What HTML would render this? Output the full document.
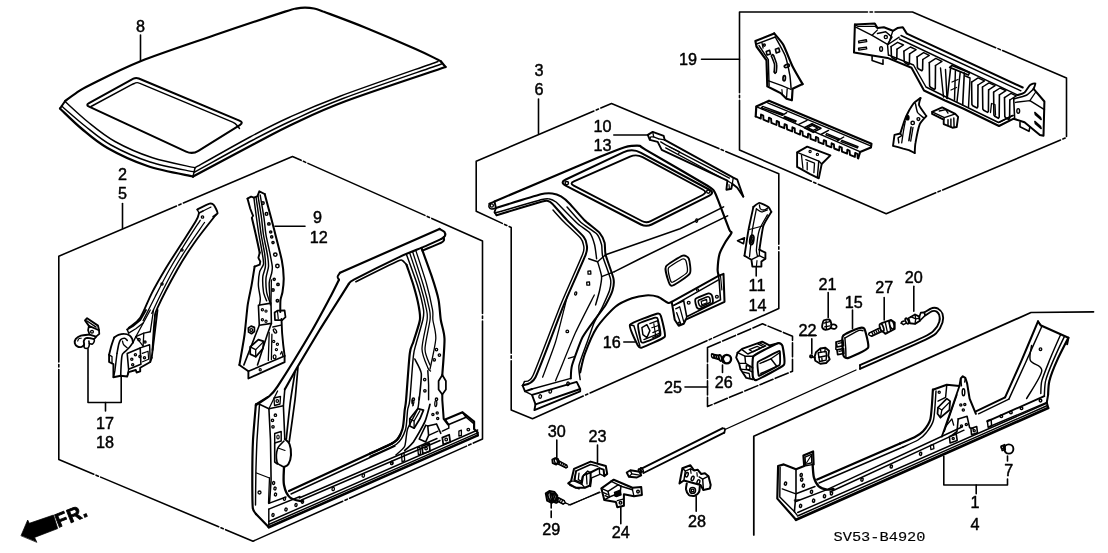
<!DOCTYPE html>
<html lang="en"><head><meta charset="utf-8"><title>Outer Panel</title>
<style>
html,body{margin:0;padding:0;background:#fff;}
body{width:1108px;height:553px;overflow:hidden;}
svg{display:block;will-change:transform;}
svg text{font-family:"Liberation Sans",sans-serif;}
svg text.m{font-family:"Liberation Mono",monospace;}
</style></head><body>
<svg width="1108" height="553" viewBox="0 0 1108 553">
<g fill="none" stroke="#000" stroke-width="1.2" stroke-linecap="round" stroke-linejoin="round">
<!-- frame -->
<path d="M58.8 256.2 L292.5 156.5 L482.5 241 L482.5 439 L253 541.2 L58.8 459.5Z" stroke-width="1.59" stroke-dasharray="128 2.5 2.5 2.5"/>
<path d="M476.2 161.2 L611.5 103.5 L778.8 173.8 L778.8 308.5 L532.5 418.8 L511.2 410 L511.2 227.5 L476.2 211.2Z" stroke-width="1.59" stroke-dasharray="128 2.5 2.5 2.5"/>
<path d="M739.5 12 L912.5 12 L1066.5 78 L1066.5 137.5 L886.2 213.8 L739.5 150Z" stroke-width="1.59" stroke-dasharray="128 2.5 2.5 2.5"/>
<path d="M707.5 347.5 L762.5 323.8 L792.5 336.2 L792.5 371.2 L707.5 406.5Z" stroke-width="1.59" stroke-dasharray="14 2.5"/>
<path d="M753.8 535 L753.8 436.2 L1031 312.5 L1093.5 311.8" stroke-width="1.74"/>
<path d="M856 370 L725 429.5" stroke-width="1.3"/>
<path d="M568.8 505 L600 492.5" stroke-width="1.3"/>
<text x="140.5" y="31.8" font-size="16.2" text-anchor="middle" stroke="#000" stroke-width="0.45" fill="#000">8</text>
<path d="M140.5 35 L140.5 61" stroke-width="1.59"/>
<text x="122.5" y="179.8" font-size="16.2" text-anchor="middle" stroke="#000" stroke-width="0.45" fill="#000">2</text>
<text x="122.5" y="198.8" font-size="16.2" text-anchor="middle" stroke="#000" stroke-width="0.45" fill="#000">5</text>
<path d="M122.5 203.5 L122.5 228.5" stroke-width="1.59"/>
<text x="539" y="75.6" font-size="16.2" text-anchor="middle" stroke="#000" stroke-width="0.45" fill="#000">3</text>
<text x="539" y="94.5" font-size="16.2" text-anchor="middle" stroke="#000" stroke-width="0.45" fill="#000">6</text>
<path d="M538.5 99 L538.5 133.5" stroke-width="1.59"/>
<text x="688" y="64.8" font-size="16.2" text-anchor="middle" stroke="#000" stroke-width="0.45" fill="#000">19</text>
<path d="M701.5 59.2 L739.5 59.2" stroke-width="1.59"/>
<text x="317.5" y="223.3" font-size="16.2" text-anchor="middle" stroke="#000" stroke-width="0.45" fill="#000">9</text>
<text x="318.8" y="243.3" font-size="16.2" text-anchor="middle" stroke="#000" stroke-width="0.45" fill="#000">12</text>
<path d="M275 226.2 L305 226.2" stroke-width="1.59"/>
<text x="602.5" y="132.3" font-size="16.2" text-anchor="middle" stroke="#000" stroke-width="0.45" fill="#000">10</text>
<text x="602.5" y="151.3" font-size="16.2" text-anchor="middle" stroke="#000" stroke-width="0.45" fill="#000">13</text>
<path d="M613.8 135 L647.5 135" stroke-width="1.59"/>
<text x="757" y="290.8" font-size="16.2" text-anchor="middle" stroke="#000" stroke-width="0.45" fill="#000">11</text>
<text x="757.5" y="310.8" font-size="16.2" text-anchor="middle" stroke="#000" stroke-width="0.45" fill="#000">14</text>
<path d="M756.2 267.5 L756.2 276" stroke-width="1.59"/>
<text x="611.8" y="347.8" font-size="16.2" text-anchor="middle" stroke="#000" stroke-width="0.45" fill="#000">16</text>
<path d="M623.8 342 L635 342" stroke-width="1.59"/>
<text x="105" y="429.3" font-size="16.2" text-anchor="middle" stroke="#000" stroke-width="0.45" fill="#000">17</text>
<text x="105" y="448.3" font-size="16.2" text-anchor="middle" stroke="#000" stroke-width="0.45" fill="#000">18</text>
<path d="M88 348.8 L88 402.5 L121.2 402.5 L121.2 376.2" stroke-width="1.59"/>
<path d="M105.5 402.5 L105.5 411" stroke-width="1.59"/>
<text x="673" y="392.8" font-size="16.2" text-anchor="middle" stroke="#000" stroke-width="0.45" fill="#000">25</text>
<path d="M685 387 L707.5 387" stroke-width="1.59"/>
<text x="723.8" y="388.3" font-size="16.2" text-anchor="middle" stroke="#000" stroke-width="0.45" fill="#000">26</text>
<path d="M722.5 365 L722.5 372.5" stroke-width="1.59"/>
<text x="827.5" y="289.6" font-size="16.2" text-anchor="middle" stroke="#000" stroke-width="0.45" fill="#000">21</text>
<path d="M828.2 292.5 L828.2 317.5" stroke-width="1.59"/>
<text x="807.5" y="335.8" font-size="16.2" text-anchor="middle" stroke="#000" stroke-width="0.45" fill="#000">22</text>
<path d="M800 335.5 L816.2 335.5" stroke-width="1.59"/>
<path d="M811.8 338.8 L811.8 353.8" stroke-width="1.59"/>
<text x="853.8" y="308.3" font-size="16.2" text-anchor="middle" stroke="#000" stroke-width="0.45" fill="#000">15</text>
<path d="M852.5 310 L852.5 328.8" stroke-width="1.59"/>
<text x="884.2" y="293.3" font-size="16.2" text-anchor="middle" stroke="#000" stroke-width="0.45" fill="#000">27</text>
<path d="M884.2 297.5 L884.2 320" stroke-width="1.59"/>
<text x="913.8" y="283.3" font-size="16.2" text-anchor="middle" stroke="#000" stroke-width="0.45" fill="#000">20</text>
<path d="M913.8 286.2 L913.8 311.2" stroke-width="1.59"/>
<text x="556.8" y="437.1" font-size="16.2" text-anchor="middle" stroke="#000" stroke-width="0.45" fill="#000">30</text>
<path d="M556.8 440 L556.8 458.8" stroke-width="1.59"/>
<text x="597.5" y="442.1" font-size="16.2" text-anchor="middle" stroke="#000" stroke-width="0.45" fill="#000">23</text>
<path d="M597.5 445 L597.5 462.5" stroke-width="1.59"/>
<text x="551.2" y="534.5" font-size="16.2" text-anchor="middle" stroke="#000" stroke-width="0.45" fill="#000">29</text>
<path d="M551.2 500 L551.2 517.5" stroke-width="1.59" stroke-dasharray="8 3"/>
<text x="620.8" y="538.3" font-size="16.2" text-anchor="middle" stroke="#000" stroke-width="0.45" fill="#000">24</text>
<path d="M620.8 507.5 L620.8 523.8" stroke-width="1.59"/>
<text x="697" y="527" font-size="16.2" text-anchor="middle" stroke="#000" stroke-width="0.45" fill="#000">28</text>
<path d="M696.2 496.2 L696.2 511.2" stroke-width="1.59"/>
<text x="1008.8" y="475.8" font-size="16.2" text-anchor="middle" stroke="#000" stroke-width="0.45" fill="#000">7</text>
<path d="M1007.5 456 L1007.5 461" stroke-width="1.59"/>
<text x="975" y="508.3" font-size="16.2" text-anchor="middle" stroke="#000" stroke-width="0.45" fill="#000">1</text>
<text x="975" y="529.5" font-size="16.2" text-anchor="middle" stroke="#000" stroke-width="0.45" fill="#000">4</text>
<path d="M943.8 456.2 L943.8 485 L1007.5 485 L1007.5 479" stroke-width="1.59"/>
<path d="M976.2 485 L976.2 493.8" stroke-width="1.59"/>
<text x="833.5" y="541.2" font-size="13.4" text-anchor="start" class="m" fill="#000" stroke="#000" stroke-width="0.15" textLength="92" lengthAdjust="spacingAndGlyphs">SV53-B4920</text>
<path d="M21.1 535.4 L27.7 520 L29.3 523.3 L53.5 515 L57.7 528.6 L34.6 537.4 L36.7 542Z" stroke-width="0.72" fill="#000"/>
<text x="58.3" y="527.8" font-size="19.5" text-anchor="start" font-weight="bold" fill="#000" stroke="#000" stroke-width="0.8" letter-spacing="0.6" transform="rotate(-21.5 58.3 527.8)">FR.</text>
<!-- roof -->
<path d="M65 101.2 C66.7 100 70.8 96.5 75 93.8 C79.2 91 79.1 90.4 90 85 C100.9 79.6 119.7 69.6 140.5 61.2 C161.3 52.9 190.9 43.3 215 35 C239.1 26.7 271.5 16 285 11.6 C298.5 7.2 292.7 9.3 296 8.6 C299.3 7.9 302 7.6 305 7.6 C308 7.6 310.8 7.8 314 8.5 C317.2 9.2 315.5 8.6 324 11.8 C332.5 15 349.8 21.3 365 27.5 C380.2 33.7 402.9 43.4 415 48.8 C427.1 54.1 433.2 57.4 437.5 59.5 C441.8 61.6 440.4 61.2 441 61.5" stroke-width="2.17"/>
<path d="M441 61.5 L445.5 67" stroke-width="2.17"/>
<path d="M438 61.5 C421.7 67.3 364.7 87 340 96.2 C315.3 105.5 305 110.2 290 117 C275 123.8 265.8 128.5 250 137 C234.2 145.5 204.2 162.6 195 167.8" stroke-width="1.45"/>
<path d="M441.5 64 C425.1 69.8 367.9 89.1 343 98.5 C318.1 107.9 307.2 113.5 292 120.5 C276.8 127.5 268.2 131.9 252 140.5 C235.8 149.1 204.1 166.8 194.5 172" stroke-width="1.45"/>
<path d="M445.5 67 C428.9 72.7 371.2 91.6 346 101 C320.8 110.4 309.3 116.3 294 123.5 C278.7 130.7 270.8 135.2 254 144 C237.2 152.8 203.2 171.1 193 176.5" stroke-width="2.32"/>
<path d="M65 101.5 C68.8 104.9 79.7 115.3 88 122 C96.3 128.7 104.2 135.5 115 141.5 C125.8 147.5 139.2 153.4 152.5 157.8 C165.8 162.1 187.9 166.1 195 167.8" stroke-width="1.45"/>
<path d="M61.5 106 C65.4 109.3 76.8 119.5 85 126 C93.2 132.5 100.2 139 111 145 C121.8 151 136.1 157.5 150 162 C163.9 166.5 187.1 170.3 194.5 172" stroke-width="1.45"/>
<path d="M60 108.5 C63.7 111.9 74.1 122.4 82 129 C89.9 135.6 96.6 141.8 107.5 148 C118.4 154.2 133.2 161.2 147.5 166 C161.8 170.8 185.4 174.8 193 176.5" stroke-width="2.32"/>
<path d="M65 101.2 L60 108.5" stroke-width="2.03"/>
<path d="M195 167.8 L193 176.5" stroke-width="1.45"/>
<path d="M138.8 78.5 Q136 77.3 133.4 78.7 L89 103.1 Q85.5 105 89.1 106.7 L186.1 151.6 Q192.5 154.5 198.4 150.8 L239.8 125.1 Q244 122.5 239.4 120.6Z" stroke-width="2.03"/>
<path d="M91 106.5 L131.2 84.8 Q133 83.8 134.9 83.2 L135.6 82.9 Q137.5 82.3 139.3 83.1 L232.7 122.1 Q235.5 123.3 237.3 125.7 L239.5 128.5" stroke-width="1.45"/>
<!-- lbox -->
<path d="M197.3 209.5 C198.5 208.9 207.9 204.1 209.6 203.7 C211.3 203.3 213.1 204.2 213.9 205.1 C214.7 206 217.7 211.9 217.6 213.1 C217.5 214.3 213.6 216.3 213.2 216.7" stroke-width="1.89"/>
<path d="M197.3 209.5 L199 213 L203 211" stroke-width="1.45"/>
<path d="M203 211 L211 207" stroke-width="1.16"/>
<path d="M199 213 C198.5 214.3 199.1 215.5 195.9 221 C192.7 226.5 185.2 237.8 180 246 C174.8 254.2 169.5 262.1 164.8 270 C160.1 277.9 155.9 285.2 151.8 293.1 C147.7 301.1 144 311.9 140.2 317.7 C136.3 323.5 130.6 326.2 128.7 327.9" stroke-width="1.89"/>
<path d="M216.1 214.5 C212.5 219.2 200.9 233.4 194.4 242.7 C187.9 251.9 183.2 259.2 177.1 270 C171 280.8 161.3 299.4 157.6 307.6 C153.9 315.8 155.5 312.1 154.7 319.2 C153.8 326.3 152.9 344.9 152.5 350" stroke-width="1.89"/>
<path d="M200.2 220.3 C197.3 224.8 188.2 238.7 183 247 C177.8 255.3 173.9 261.7 169.2 270 C164.5 278.3 159.3 288.6 155 297 C150.7 305.4 145.1 316.7 143.1 320.6" stroke-width="1.3"/>
<path d="M204.5 222.5 C201.6 226.8 192.2 240.1 187 248 C181.8 255.9 178 262 173.5 270 C169 278 163.6 288.8 160 296 C156.4 303.2 153.2 310.5 151.8 313.4" stroke-width="1.3"/>
<circle cx="202.5" cy="217" r="1.2" stroke-width="1.3"/>
<circle cx="182" cy="250" r="1.1" stroke-width="1.3"/>
<circle cx="162" cy="284" r="1.1" stroke-width="1.3"/>
<path d="M88.9 325.9 L85 320.4 L87.1 318.2 L98 325.6 L99 330.2" stroke-width="1.89"/>
<path d="M86.7 320.8 L96.1 327.1" stroke-width="1.3"/>
<path d="M88.9 325.9 L99 330.2 L99.3 333.9 L96.1 336.7 L89.6 334.6 L88.1 330.2Z" stroke-width="1.74"/>
<circle cx="92" cy="331.7" r="1.4" stroke-width="1.3"/>
<path d="M89.6 334.6 C88.1 334.8 83.2 335 80.9 335.7 C78.6 336.5 76.9 337.7 75.8 338.9 C74.8 340.2 74.6 342 74.8 343.3 C75.1 344.5 76.2 345.8 77.3 346.4 C78.4 347 80.5 347.2 81.6 346.9 C82.8 346.6 83.7 345.7 84.1 344.7 C84.4 343.7 83.5 342.2 83.8 341.1 C84.1 340 84.9 338.7 86 338.2 C87 337.7 89 338.1 90.3 338.2 C91.6 338.3 93 339.2 93.9 338.9 C94.9 338.7 95.7 337.1 96.1 336.7" stroke-width="1.89"/>
<path d="M84.1 344.7 C84.2 345.2 83.8 347.3 84.5 347.9 C85.2 348.4 87.3 348.4 88.1 347.9 C88.9 347.3 89.2 345.8 89.3 344.7 C89.4 343.6 88.9 341.7 88.9 341.1" stroke-width="1.59"/>
<path d="M89.3 343.5 C89.8 343.6 91.6 344.4 92.5 344 C93.3 343.6 94.1 341.9 94.3 341.1 C94.6 340.2 94 339.3 93.9 338.9" stroke-width="1.59"/>
<path d="M77.7 341.1 C77.9 340.7 78.2 339.4 78.7 338.9 C79.3 338.4 80.8 338.3 81.2 338.2" stroke-width="1.16"/>
<path d="M114.2 337.5 C114.9 337 116.8 335.5 118.5 334.9 C120.2 334.3 122.5 333.8 124.3 333.9 C126.1 333.9 128 334.5 129.3 335.3 C130.7 336.1 131.6 337.7 132.2 338.9 C132.8 340.1 132.8 341.9 133 342.5" stroke-width="1.89"/>
<path d="M114.2 337.5 C113.9 338.3 111.8 344.4 111.3 346.1 C110.8 347.9 109.3 354 109.1 354.8" stroke-width="1.89"/>
<path d="M109.1 354.8 L109.1 362 L113.4 364.2 L113.4 377.2 L120.7 375.8 L127.2 376.5 L128.6 372.2 L135.8 370 L136.6 372.5 L140.2 371.4 L140.2 367.8 L150.3 362 L151.7 357.7" stroke-width="1.89"/>
<path d="M109.1 354.8 L112 356.6 L112 363.2" stroke-width="1.3"/>
<path d="M117 353.4 C117.3 351.8 118.2 346.3 118.8 344 C119.4 341.7 119.7 340.6 120.7 339.6 C121.6 338.7 123.5 338.1 124.6 338.2 C125.7 338.3 126.7 340 127.2 340.4" stroke-width="1.59"/>
<path d="M120.7 375.8 C120.8 372.8 121.3 361.4 121.7 357.7 C122.1 354 122 354.9 123.1 353.4 C124.3 351.8 127 350.1 128.6 348.3 C130.3 346.5 132.2 343.5 133 342.5" stroke-width="1.59"/>
<path d="M117 353.4 C116.8 355.1 115.2 368.3 114.9 370.7 C114.5 373.1 113.6 376.6 113.4 377.2" stroke-width="1.45"/>
<path d="M122.5 341.1 C122.7 341.7 122.8 343.6 123.6 344.7 C124.3 345.8 126.6 347.3 127.2 347.9" stroke-width="1.3"/>
<path d="M127.2 353.4 L140.2 347.9 L140.9 364.2 L128.6 369.3Z" stroke-width="1.59"/>
<path d="M140.2 347.9 L149.6 344.7 L150.3 362" stroke-width="1.45"/>
<path d="M128.6 369.3 L127.2 376.5" stroke-width="1.3"/>
<path d="M142.3 353.4 L148.1 351.2 L148.6 359.2 L142.6 361.8" stroke-width="1.16"/>
<circle cx="135.4" cy="354.8" r="1.1" stroke-width="1.3"/>
<circle cx="131.8" cy="359.2" r="1.1" stroke-width="1.3"/>
<circle cx="132.7" cy="364.7" r="1.1" stroke-width="1.3"/>
<circle cx="139.9" cy="356.6" r="1.1" stroke-width="1.3"/>
<circle cx="144.5" cy="357.7" r="1.1" stroke-width="1.3"/>
<path d="M133 342.5 L135.8 336.7 L143.8 333.1 L150.3 331.7" stroke-width="1.45"/>
<path d="M135.8 336.7 L143.1 346.1" stroke-width="1.3"/>
<path d="M143.8 333.1 L143.1 346.1" stroke-width="1.3"/>
<circle cx="139" cy="339.6" r="1.2" stroke-width="1.3"/>
<circle cx="145" cy="342.1" r="1.1" stroke-width="1.3"/>
<path d="M127.2 329.5 L133 325.9 L140.2 320.1 L146 310" stroke-width="1.89"/>
<path d="M127.2 329.5 L128.6 333.1" stroke-width="1.45"/>
<path d="M128.6 333.1 L135.8 328.8 L143.1 323" stroke-width="1.3"/>
<path d="M151.7 357.7 L157.5 310" stroke-width="1.89"/>
<path d="M150.3 331.7 L153.5 310" stroke-width="1.3"/>
<path d="M135.8 336.7 L150.3 310" stroke-width="1.3"/>
<path d="M247.5 198.6 L251.1 196.7 L253.9 197.7 L257.5 196.2 L259.3 191.3 L264.7 194" stroke-width="1.89"/>
<path d="M247.5 198.6 C247.7 199.2 249.9 207.4 250.2 208.5 C250.6 209.6 252.8 215.2 253 215.7" stroke-width="1.89"/>
<path d="M253 215.7 L251.9 217.9" stroke-width="1.59"/>
<path d="M251.9 217.9 C252.3 219.6 255.1 231.5 255.9 235 C256.7 238.5 259.3 250.9 259.7 252.7" stroke-width="2.03"/>
<path d="M259.7 252.7 L258.4 257.8 L260.3 261.6 L259.7 264.7 L254.6 266.6" stroke-width="1.89"/>
<path d="M254.6 266.6 C254.3 268.5 252.2 281.8 251.5 285.6 C250.8 289.4 248.4 300 247.7 304.9 C247 309.8 245.3 329 244.5 335 C243.7 341 239.9 362 239.4 365" stroke-width="2.03"/>
<path d="M264.7 194 C265.4 196.7 269.7 212.7 271 217.5 C272.3 222.3 274.2 230 275.5 235 C276.8 240 280.8 255.3 281.8 260.3 C282.8 265.3 283.6 274.3 283.7 278 C283.8 281.7 282.9 289.4 282.5 292 C282.1 294.6 280.8 297.7 280.5 300 C280.2 302.3 280.3 310.6 280.3 312" stroke-width="2.03"/>
<path d="M253.9 197.7 C254.2 200.1 255.9 213.6 256.5 218 C257.1 222.4 258.3 231 259 235 C259.7 239 261.7 249.3 262.2 252.7 C262.7 256.1 263.8 261.9 263.5 264.1 C263.2 266.3 260.3 269.2 259.7 271.7 C259.1 274.2 258.3 282.5 258.4 285.6 C258.5 288.7 260.2 296 260.3 298.3 C260.4 300.6 259.6 304.2 259.5 305" stroke-width="1.45"/>
<path d="M256 197 C256.4 199.4 258.4 213.6 259 218 C259.6 222.4 260.5 230.8 261.2 235 C261.9 239.2 264.2 250.3 264.7 254 C265.2 257.7 265.6 263.9 265.4 266.6 C265.2 269.3 263 273.8 262.8 276.8 C262.6 279.8 263.1 289.2 263.5 292 C263.9 294.8 266.2 299.8 266.6 300.8" stroke-width="1.45"/>
<path d="M258 196 C258.4 198.6 260.9 213.4 261.5 218 C262.1 222.6 262.8 230.8 263.5 235 C264.2 239.2 266.7 250.3 267.3 254 C267.9 257.7 268.7 263.8 268.5 266.6 C268.3 269.4 266.2 275 266 278 C265.8 281 266.2 289.2 266.6 292 C267 294.8 269.4 300.9 269.8 302.1" stroke-width="1.45"/>
<path d="M260.2 195 C260.6 197.7 263.3 213.3 264 218 C264.7 222.7 265.3 231 266 235 C266.7 239 269.1 249 269.8 252.7 C270.5 256.4 272.1 264.2 272.3 266.6 C272.5 269 272.1 271.1 271.7 273 C271.3 274.9 269.4 279.4 269.2 283.1 C269 286.8 270.3 302.4 270.4 304.9" stroke-width="1.45"/>
<circle cx="262.9" cy="203.1" r="1.3" stroke-width="1.45"/>
<circle cx="266.5" cy="213.9" r="1.3" stroke-width="1.45"/>
<circle cx="268.9" cy="223.9" r="1.2" stroke-width="1.45"/>
<circle cx="270.7" cy="232" r="1.1" stroke-width="1.45"/>
<circle cx="271.7" cy="236.9" r="1.1" stroke-width="1.45"/>
<circle cx="273" cy="242.6" r="1.1" stroke-width="1.45"/>
<circle cx="275.3" cy="254.6" r="1.7" stroke-width="1.45"/>
<circle cx="277.4" cy="266" r="1.7" stroke-width="1.45"/>
<circle cx="274.2" cy="279.3" r="1.1" stroke-width="1.45"/>
<circle cx="278" cy="284.4" r="1.2" stroke-width="1.45"/>
<circle cx="273" cy="290" r="1.2" stroke-width="1.45"/>
<circle cx="277.4" cy="300.8" r="1.2" stroke-width="1.45"/>
<path d="M239.4 364.9 L248.4 371.3 L248.4 378.5 L284.6 362.2 L284.6 355.9" stroke-width="1.89"/>
<path d="M248.4 371.3 L284.6 355.9" stroke-width="1.59"/>
<path d="M281.5 318.9 C281.6 320.4 281.9 330.5 282.2 334.2 C282.5 337.9 284.3 353.7 284.6 355.9" stroke-width="1.89"/>
<path d="M274.6 312.5 L277.4 310.7 L284.6 310.4 L285.5 317.1 L282.2 320.1 L275 320.1Z" stroke-width="1.74"/>
<path d="M277.4 310.7 L278.3 318.9" stroke-width="1.16"/>
<path d="M258.4 305.3 L271 303.1 L271.4 323.4 L259.3 325.2Z" stroke-width="1.59"/>
<circle cx="262.4" cy="309.8" r="1.1" stroke-width="1.16"/>
<circle cx="266" cy="311.1" r="1.1" stroke-width="1.16"/>
<circle cx="262.4" cy="319.8" r="1.1" stroke-width="1.16"/>
<circle cx="266" cy="321.2" r="1.1" stroke-width="1.16"/>
<path d="M271 303.1 L271.4 280" stroke-width="1.3"/>
<path d="M259.3 325.2 L243.9 364.9" stroke-width="1.59"/>
<path d="M271.4 323.4 L267.4 334.2 L257.5 364.9" stroke-width="1.59"/>
<path d="M269.2 332.4 L268.3 360.4" stroke-width="1.3"/>
<path d="M272.8 327 L281 325.2" stroke-width="1.3"/>
<path d="M271.9 334.2 L271.4 359.5" stroke-width="1.3"/>
<ellipse cx="275" cy="331" rx="1.3" ry="2.3" transform="rotate(-30 275 331)" stroke-width="1.3"/>
<circle cx="273.7" cy="341.4" r="1.1" stroke-width="1.16"/>
<circle cx="277.4" cy="344.2" r="1.1" stroke-width="1.16"/>
<circle cx="276.4" cy="349.6" r="1.1" stroke-width="1.16"/>
<ellipse cx="274.6" cy="356.8" rx="1.4" ry="2" stroke-width="1.3"/>
<path d="M280.4 354.1 L281.9 351.4 L282.8 355.9" stroke-width="1.16"/>
<path d="M248.4 327.9 L251.1 326.1 L254.4 327.4 L254.4 331.5 L251.5 333.7 L248.6 332.1Z" stroke-width="1.74"/>
<circle cx="251.3" cy="330.1" r="1.4" stroke-width="1.3"/>
<path d="M250.2 346.9 L258.4 339.6 L263.8 341.4 L262.9 348.7 L255.7 356.8 L250.2 354.1Z" stroke-width="1.74"/>
<path d="M250.2 346.9 L255.7 349.6 L255.7 356.8" stroke-width="1.3"/>
<path d="M255.7 349.6 L262.9 342.4" stroke-width="1.3"/>
<circle cx="260.2" cy="369.8" r="1.1" stroke-width="1.16"/>
<!-- panel -->
<path d="M340 272.7 L439.5 229" stroke-width="2.17"/>
<path d="M439.5 229 C440.3 229.5 443.5 230.8 444.4 231.9 C445.3 233.1 445.5 234.7 445 235.9 C444.5 237.1 442 238.4 441.4 238.9" stroke-width="2.17"/>
<path d="M441.4 238.9 C439.6 239.7 427.7 245.1 423.5 246.9 C419.3 248.7 406.7 253.5 399.7 256.8 C392.7 260.1 359 277 353.9 279.7 C348.8 282.4 349.4 283.3 348.9 283.7" stroke-width="2.03"/>
<path d="M443.8 237 C443.8 237.3 444.2 239.7 444 240.3 C443.8 240.9 442.6 242 441.4 242.6 C440.2 243.2 433.9 245.8 432 246.6 C430.1 247.4 423.4 250.2 422.4 250.6" stroke-width="2.03"/>
<path d="M406.6 264.8 C406.2 264.4 403.5 261.2 402.6 260.8 C401.7 260.4 402.7 258.9 398 261 C393.3 263.1 360.1 279.6 355.9 281.7" stroke-width="1.74"/>
<path d="M340 272.7 C339.6 273.4 337.8 275.5 337.6 276.7 C337.4 277.9 338.8 279.2 339 279.7" stroke-width="1.89"/>
<path d="M339 279.7 C338.1 281.5 332.7 292.6 330 297.6 C327.3 302.6 317.5 321.1 312.3 330 C307.1 338.9 281.9 379.8 277.6 386.4 C273.3 393 271.1 394.6 268.9 396.5 C266.7 398.4 257.2 404.3 255.9 405.2" stroke-width="2.17"/>
<path d="M348.9 283.7 C347 286.7 332.9 308.9 330 313.5 C327.1 318.1 322.8 324.7 319.6 330 C316.4 335.3 301.4 360.3 297.9 366.2 C294.4 372.1 286.1 387 284.8 389.3" stroke-width="2.17"/>
<path d="M406.6 264.8 C407.5 267.6 412 280.3 413.6 285.7 C415.2 291.1 417.8 301 418.6 305.6 C419.4 310.2 420.6 315.2 419.9 320 C419.2 324.8 414.7 337.3 413.4 341.7 C412.1 346.1 410.8 345.6 409.8 353.3 C408.8 361 406.8 392.2 406.1 399.8 C405.4 407.4 405.2 406.1 404.7 410 C404.2 413.9 403.8 424.6 402.5 428.9 C401.2 433.2 398.9 438.6 394.6 441.9 C390.3 445.2 373.3 452 370 453.5" stroke-width="2.17"/>
<path d="M406.6 254.8 C408.1 258.9 415.3 278.4 417.6 285.7 C419.9 293 422.8 305 423.5 309.6 C424.2 314.2 423.8 315.5 422.8 320 C421.8 324.5 417.6 338.2 416.3 343 C415 347.8 414.3 348.4 413.4 356 C412.5 363.6 410.6 392.6 409.8 399.8 C409 407 408.2 406 407.6 410 C407 414 406.9 425.5 405.4 430 C403.9 434.5 401.4 440.5 396.7 444 C392 447.5 373.6 454.7 370 456.4" stroke-width="1.45"/>
<path d="M409.6 252.8 C411.1 257.2 418.2 278.1 420.5 285.7 C422.8 293.3 425.6 305 426.5 309.6 C427.4 314.2 427.7 314.8 427.1 320 C426.5 325.2 421.9 342.5 422 348.9 C422.1 355.3 426.7 364.8 427.8 367.7 C428.9 370.6 430.1 370.6 430.5 371" stroke-width="1.3"/>
<path d="M412.6 251.8 C414.1 256.3 421.2 278 423.5 285.7 C425.8 293.4 428.6 305 429.5 309.6 C430.4 314.2 430.6 314.7 430 320 C429.4 325.3 425 343 425 349 C425 355 429.3 362.9 430 365" stroke-width="1.3"/>
<path d="M415.6 249.9 C417.1 254.4 424.2 275.7 426.5 283.7 C428.8 291.7 431.6 304.8 432.5 309.6 C433.4 314.4 432.5 316.1 432.9 320 C433.3 323.9 436.2 332.2 435.8 338.8 C435.4 345.4 430.8 365.1 430 369.2" stroke-width="1.3"/>
<path d="M421.5 247.9 C422.8 251.6 429.2 268.8 431.5 275.7 C433.8 282.6 437.3 293.7 438.5 299.6 C439.7 305.5 440 314.8 440.8 320 C441.6 325.2 444.3 331.5 444.5 338.8 C444.7 346.1 442.6 370.1 442.3 374.9" stroke-width="2.17"/>
<path d="M442.3 374.9 L442.3 376" stroke-width="1.74"/>
<path d="M442.3 375 L445.9 381 L445.9 389.5 L442.3 394.5 L438.6 389.5 L438.6 381Z" stroke-width="1.74"/>
<path d="M442.3 394.5 L442.3 400 L443.7 418.8 L448.1 424.6" stroke-width="2.03"/>
<path d="M414.8 359 C415.5 360.5 420.9 369.4 421.3 373.5 C421.8 377.6 419.4 397.2 419.2 399.8" stroke-width="1.59"/>
<path d="M427.8 370.6 C427.9 372 428.5 382.1 428.6 385.1 C428.6 388 428.6 398.3 428.6 399.8" stroke-width="1.45"/>
<circle cx="436.5" cy="349.6" r="1.2" stroke-width="1.3"/>
<circle cx="439.4" cy="355.1" r="1.2" stroke-width="1.3"/>
<circle cx="434.3" cy="359.8" r="1.2" stroke-width="1.3"/>
<circle cx="424.7" cy="379.6" r="1.2" stroke-width="1.3"/>
<circle cx="424.9" cy="390.8" r="1.2" stroke-width="1.3"/>
<circle cx="413.4" cy="399.2" r="1.2" stroke-width="1.3"/>
<circle cx="436.5" cy="399.2" r="1.2" stroke-width="1.3"/>
<path d="M411.9 400 L413.4 405.1 L412.7 405.8" stroke-width="1.3"/>
<ellipse cx="412.9" cy="402.2" rx="1" ry="2" transform="rotate(5 412.9 402.2)" stroke-width="1.3"/>
<ellipse cx="435.8" cy="403.6" rx="1" ry="2.9" transform="rotate(3 435.8 403.6)" stroke-width="1.3"/>
<circle cx="432.9" cy="414.5" r="1.1" stroke-width="1.3"/>
<circle cx="437.2" cy="413" r="1.1" stroke-width="1.3"/>
<circle cx="437.7" cy="418.5" r="1.1" stroke-width="1.3"/>
<path d="M409.8 418.8 L417.7 408.7 L423.5 410.1 L419.9 418.8 L414.1 428.2 L409.8 426Z" stroke-width="1.74"/>
<path d="M409.8 418.8 L414.1 421 L414.1 428.2" stroke-width="1.3"/>
<path d="M414.1 421 L419.9 410.8" stroke-width="1.3"/>
<path d="M419.2 397.1 C419 398.3 418.9 405.5 417.7 408.7 C416.6 411.9 408.9 425.2 407.6 428.9 C406.3 432.7 405.9 443.7 404.7 446.3 C403.5 448.9 396.9 454.1 396 454.9" stroke-width="1.45"/>
<path d="M430 404.3 C429.5 406.1 426.6 417.9 424.9 421.7 C423.3 425.4 415.4 439 413.4 441.9 C411.3 444.8 405.6 449.7 404.7 450.6" stroke-width="1.74"/>
<path d="M425.7 425.3 L419.2 439 L425.7 441.9 L428.6 435.4 L427.8 426" stroke-width="1.59"/>
<path d="M427.8 426 L436.5 423.9 L440.8 433.3" stroke-width="1.59"/>
<path d="M428.6 435.4 L438 431.1" stroke-width="1.3"/>
<path d="M425.7 425.3 L427.8 426" stroke-width="1.3"/>
<path d="M445.2 419.5 L462.5 412.3 L474.1 421.7 L474.1 428.9 L477.7 432.5 L477.7 435.4" stroke-width="2.17"/>
<path d="M445.2 419.5 L448.8 424.6 L466.1 417.3 L462.5 412.3" stroke-width="1.59"/>
<path d="M448.8 424.6 L448.8 428.2 L442.3 431.1" stroke-width="1.45"/>
<path d="M466.1 417.3 L474.1 423.9" stroke-width="1.45"/>
<circle cx="468.3" cy="429.6" r="1.3" stroke-width="1.3"/>
<path d="M458.9 431.1 L461.4 430.1 L461.4 435.4 L458.9 436.1Z" stroke-width="1.3"/>
<path d="M442.3 437.6 L449.2 434.7 L450.2 441.9 L443.3 444.5Z" stroke-width="1.74"/>
<circle cx="446.2" cy="439.5" r="1.3" stroke-width="1.3"/>
<path d="M422 446.3 L429.3 443.4 L430 451.3 L422.8 453.8Z" stroke-width="1.74"/>
<circle cx="426.1" cy="448.6" r="1.3" stroke-width="1.3"/>
<path d="M417.7 447.7 L419.9 447 L420.6 454.2 L418.4 454.7Z" stroke-width="1.3"/>
<path d="M401.5 454.2 L404.1 453.2 L404.7 460.7 L402.1 461.9Z" stroke-width="1.3"/>
<circle cx="391.7" cy="463.2" r="1.2" stroke-width="1.3"/>
<path d="M255.9 404.3 C255.6 407.9 253.4 432.4 253 440 C252.6 447.6 252.3 473.2 252.3 480 C252.3 486.8 252.4 504.6 252.8 508 C253.2 511.4 255.7 513.4 256 514" stroke-width="2.17"/>
<path d="M259.5 404.3 C259.2 407.9 257.4 433.3 257 440 C256.6 446.7 256.1 464.5 255.9 471 C255.8 477.5 255.5 501.6 255.5 505" stroke-width="1.45"/>
<path d="M256 514 L268.8 527.3" stroke-width="2.17"/>
<path d="M255.9 404.3 L268 396.8" stroke-width="1.74"/>
<path d="M268.9 408.7 L270.5 440 L271.1 480 L269.5 503" stroke-width="1.59"/>
<path d="M259.5 404.3 L268.9 408.7 L283.4 405.8 L284.8 389.3" stroke-width="1.59"/>
<path d="M268.9 408.7 L277.6 391" stroke-width="1.3"/>
<path d="M283.4 405.8 L284.8 439" stroke-width="1.59"/>
<path d="M274 398 L280.5 396.5 L280 404 L274.5 405.5Z" stroke-width="1.3"/>
<circle cx="277.3" cy="401" r="1.3" stroke-width="1.16"/>
<path d="M297.9 367.6 C297.6 370.8 295.9 392.6 295 400 C294.1 407.4 289.8 437.8 289.2 442" stroke-width="1.74"/>
<path d="M295 372 C294.6 374.8 291.5 393.3 290.6 400 C289.7 406.7 286.7 435.1 286.3 439" stroke-width="1.74"/>
<circle cx="275.4" cy="415.2" r="1.2" stroke-width="1.3"/>
<circle cx="272.5" cy="420.3" r="1.2" stroke-width="1.3"/>
<circle cx="273" cy="426.8" r="1.2" stroke-width="1.3"/>
<path d="M274.7 433.5 L281.2 431.5 L281.2 441 L274.7 443Z" stroke-width="1.45"/>
<ellipse cx="278" cy="437" rx="1.2" ry="2" stroke-width="1.16"/>
<path d="M284.8 439 C285.6 439.8 288.5 441.3 289.5 444 C290.5 446.7 291.2 451.7 291 455 C290.8 458.3 289.7 462 288.5 464 C287.3 466 284.8 466.5 284 467" stroke-width="2.03"/>
<path d="M284 441 C282.9 442.3 278.7 445.5 277.5 449 C276.3 452.5 276.4 459.2 277 462 C277.6 464.8 279.8 464.7 281 465.5 C282.2 466.3 283.5 466.8 284 467" stroke-width="1.59"/>
<path d="M274.7 443 L274.7 462 L277.5 464" stroke-width="1.59"/>
<path d="M278 448 L285 450.5" stroke-width="1.16"/>
<path d="M256.5 473 L269.5 478" stroke-width="1.3"/>
<path d="M269.5 478 L268.5 503" stroke-width="1.3"/>
<path d="M284 467 C284 470 283 479.9 284 485 C285 490.1 286.9 494.8 290 497.5 C293.1 500.2 300.4 500.8 302.5 501.5" stroke-width="2.32"/>
<circle cx="259.5" cy="492.5" r="1.5" stroke-width="1.3"/>
<ellipse cx="273.6" cy="483" rx="1.1" ry="1.5" transform="rotate(15 273.6 483)" stroke-width="1.3"/>
<ellipse cx="275" cy="488.5" rx="1.1" ry="1.5" transform="rotate(15 275 488.5)" stroke-width="1.3"/>
<ellipse cx="275.5" cy="494.5" rx="1.1" ry="1.5" transform="rotate(15 275.5 494.5)" stroke-width="1.3"/>
<ellipse cx="284.5" cy="498.8" rx="1.1" ry="1.5" transform="rotate(15 284.5 498.8)" stroke-width="1.3"/>
<ellipse cx="286" cy="509.5" rx="1.1" ry="1.5" transform="rotate(15 286 509.5)" stroke-width="1.3"/>
<ellipse cx="296" cy="505" rx="1.1" ry="1.5" transform="rotate(15 296 505)" stroke-width="1.3"/>
<ellipse cx="302.5" cy="501.8" rx="1.1" ry="1.5" transform="rotate(15 302.5 501.8)" stroke-width="1.3"/>
<ellipse cx="273" cy="515" rx="1.1" ry="1.5" transform="rotate(15 273 515)" stroke-width="1.3"/>
<path d="M289 491 L391.9 443.4" stroke-width="2.17"/>
<path d="M391.9 443.4 C392.8 442.8 395.6 441.4 397 440 C398.4 438.6 399.8 435.6 400.3 434.7" stroke-width="2.17"/>
<path d="M291 494 L395 446" stroke-width="1.45"/>
<path d="M299.2 498 L437 438.5" stroke-width="1.45"/>
<path d="M301.5 500 L440 440.5" stroke-width="1.45"/>
<path d="M268.8 503.4 L286 497" stroke-width="1.45"/>
<path d="M268.8 509.2 L300 496.5" stroke-width="1.45"/>
<path d="M268.8 509.2 L268.8 527.3" stroke-width="1.45"/>
<path d="M268.8 521.5 L477.7 430" stroke-width="1.45"/>
<path d="M268.8 524.5 L477.7 432.8" stroke-width="1.45"/>
<path d="M268.8 527.3 L477.7 435.4" stroke-width="2.61"/>
<ellipse cx="333.2" cy="489" rx="1.2" ry="1.7" transform="rotate(15 333.2 489)" stroke-width="1.3"/>
<ellipse cx="363.3" cy="475.6" rx="1.2" ry="1.7" transform="rotate(15 363.3 475.6)" stroke-width="1.3"/>
<ellipse cx="391.8" cy="462.9" rx="1.2" ry="1.7" transform="rotate(15 391.8 462.9)" stroke-width="1.3"/>
<!-- quarter -->
<path d="M489.4 203.7 L494.5 201.5 L495.9 208 L494.5 212.3 L496.6 215.2" stroke-width="1.89"/>
<path d="M489.4 203.7 C489.3 204.2 488.6 206.1 489 207 C489.4 207.9 490.4 208.8 491.5 209 C492.6 209.2 495.2 208.2 495.9 208" stroke-width="1.59"/>
<circle cx="491.8" cy="205.5" r="1.6" stroke-width="1.3"/>
<path d="M494.5 201.5 C505.1 197 587 162.2 600 156.8 C613 151.4 621.5 148.3 624.7 147.2 C627.9 146.1 630.3 146 631.8 145.9 C633.3 145.8 638.4 145.5 639.8 145.9 C641.2 146.3 639 145.9 645.8 149.9 C652.6 153.9 700.6 181.5 707.5 185.7 C714.4 189.9 713.2 189.8 714.4 191.6 C715.6 193.4 717.9 199.8 719.4 203.6 C720.9 207.4 728.2 227 729.4 229.9 C730.6 232.8 731.9 231.6 731.5 232.8 C731.1 234 726.8 239.6 725.6 241.7 C724.4 243.8 720.4 250.9 719.6 253.7 C718.8 256.5 717.7 267.4 717.6 269.6 C717.5 271.8 718.5 275 718.6 275.6" stroke-width="2.17"/>
<path d="M495.9 208 C500.4 206.6 535.2 195.8 540.8 194.3 C546.4 192.9 550.3 193.3 552.3 193.5 C554.3 193.7 559.3 195.4 561 196.4 C562.7 197.4 567.4 201.3 569.7 203.7 C572 206 581.2 217 584.2 219.9 C587.2 222.8 597.6 230.5 599.6 232.8 C601.6 235.1 604 240.6 604.6 242.8 C605.2 245 604.7 251.1 605.6 254.7 C606.5 258.3 612.8 275 613.5 278.6 C614.2 282.2 613.3 287.9 612.5 290.5 C611.7 293.1 607.2 302.1 605.6 304.9 C604 307.6 598.3 314.8 596 318 C593.7 321.2 584.9 332.6 582.5 337.3 C580.1 342.1 573.2 361.4 572 365.5 C570.8 369.6 570.9 377.1 570.8 378.4" stroke-width="2.03"/>
<path d="M567 207 C568.4 208.6 578 219.8 581 222.5 C584 225.2 594.5 231.6 596.6 233.8 C598.7 236 601 242.6 601.6 244.8 C602.2 247 601.7 252.6 602.6 256 C603.5 259.4 609.8 275.6 610.5 279 C611.2 282.4 610.3 287.8 609.5 290.5 C608.7 293.2 604.1 303.2 602.6 306.5 C601.1 309.8 595.5 319.4 594 323 C592.5 326.6 588.7 337.8 587.2 342 C585.7 346.2 579.7 361.7 579 365.5 C578.3 369.3 580.1 378.2 580.2 379.6" stroke-width="1.45"/>
<path d="M495 213 C499.7 211.7 536.5 200.9 542 199.5 C547.5 198.1 548.1 198.8 549.5 199 C550.9 199.2 554.6 201 556 202 C557.4 203 560.8 206.8 563 209 C565.2 211.2 575.3 221.6 578 224 C580.7 226.4 588 230.7 589.7 232.8 C591.4 234.9 593.9 242.2 594.6 244.8 C595.3 247.4 596.4 257.3 596.6 258.7" stroke-width="1.45"/>
<path d="M496.6 215.2 C501.2 213.8 537.1 202.9 542.2 201.5 C547.3 200.1 547 200.8 548 201 C549 201.2 550.4 201.8 552.3 203.7 C554.2 205.6 563.7 216.6 566.8 219.9 C569.9 223.2 581.7 234.3 583.7 236.8 C585.7 239.3 586.5 243 586.7 244.8 C586.9 246.6 588 248.7 585.7 254.7 C583.4 260.7 568.8 292.6 563.8 304.9 C558.8 317.1 539.6 369.1 535.5 377.2 C531.4 385.3 523.9 384.7 522.6 385.5" stroke-width="2.03"/>
<path d="M553 210 C554.1 211.2 561.2 219.2 564 222 C566.8 224.8 578.5 235.7 580.5 238 C582.5 240.3 583.3 243.4 583.5 245 C583.7 246.6 585 248.1 582.7 254 C580.5 259.9 566 291.9 561 304 C556 316.1 536.6 367.8 533 375.5 C529.4 383.2 525.4 380.9 524.5 381.5" stroke-width="1.45"/>
<path d="M588.7 258.7 L597.6 261.7 L605.6 254.7" stroke-width="1.45"/>
<path d="M597.6 261.7 C598 263.2 601.4 273.7 601.6 276.6 C601.8 279.5 600.2 287.7 599.6 290.5 C599 293.3 596 303.5 595.6 304.9" stroke-width="1.45"/>
<path d="M601.6 276.6 L614.5 271.6" stroke-width="1.45"/>
<path d="M605.6 254.7 L680 228.8 L723.6 206.9" stroke-width="1.59"/>
<path d="M614.5 271.6 L640 258.7 L727.6 215.9" stroke-width="1.59"/>
<path d="M587.9 271.2 L590.7 271 L590.9 274 L588.1 274.2Z" stroke-width="1.3"/>
<path d="M586.7 282.2 L589.5 282 L589.7 285 L586.9 285.2Z" stroke-width="1.3"/>
<ellipse cx="575.7" cy="293.5" rx="1" ry="1.6" transform="rotate(15 575.7 293.5)" stroke-width="1.3"/>
<circle cx="567.3" cy="331.4" r="1.3" stroke-width="1.3"/>
<path d="M567.3 296.2 C566.1 300.8 558 333.9 555.5 342 C553 350.1 543.9 373.7 542.6 377.2" stroke-width="1.3"/>
<path d="M594.3 295 C592.4 298.8 579 324.9 575.5 332.6 C572 340.4 561 367.7 559 372.5 C557 377.3 555.9 380 555.5 380.8" stroke-width="1.3"/>
<path d="M568.4 358.4 L574.3 356.6" stroke-width="1.3"/>
<path d="M565.7 185.7 Q559.5 182.5 565.8 179.5 L623.2 152.4 Q632.2 148.1 641 152.8 L709 189.5 Q715.2 192.8 708.9 195.9 L651.6 224.5 Q646.2 227.2 640.9 224.5Z" stroke-width="2.03"/>
<path d="M573.7 185.7 Q569.3 183.4 573.9 181.4 L630 156.7 Q636.4 153.9 642.6 157.2 L702.7 189.5 Q708 192.3 702.6 195 L650.7 221.1 Q646.2 223.3 641.8 221Z" stroke-width="1.89"/>
<circle cx="566.8" cy="183.1" r="1.7" stroke-width="1.45"/>
<circle cx="708.3" cy="191.6" r="1.7" stroke-width="1.45"/>
<ellipse cx="696.6" cy="220.6" rx="1" ry="1.7" transform="rotate(10 696.6 220.6)" stroke-width="1.3"/>
<path d="M665.9 266.6 C667.3 263.9 680.5 256.5 682.8 255.7 C685.1 254.9 688.1 256.9 688.8 258.7 C689.5 260.5 691.4 270.9 689.8 273.6 C688.2 276.3 674.9 284.6 672.8 285.5 C670.7 286.4 669.6 284.4 668.9 282.5 C668.2 280.6 664.5 269.3 665.9 266.6Z" stroke-width="1.89"/>
<path d="M668.5 268 C669.7 265.9 680.8 259.7 682.5 259 C684.2 258.3 685.5 259.6 686 261 C686.5 262.4 688.3 270.4 687 272.5 C685.7 274.6 674.6 281.2 673 282 C671.4 282.8 671 281.9 670.5 280.5 C670 279.1 667.3 270.1 668.5 268Z" stroke-width="1.3"/>
<path d="M580.2 372.5 C580.8 370 582.7 359.6 584.9 353.7 C587.1 347.8 592.5 334.2 596.6 327.9 C600.7 321.6 610.7 310.6 615.4 306.7 C620.1 302.8 627.8 299.8 631.9 298.3 C636 296.8 642.4 295.6 645.9 295.4 C649.4 295.2 654.9 295.8 657.8 296.8 C660.7 297.8 665.9 302.1 667.8 302.8 C669.7 303.5 671.2 301.9 671.7 301.8" stroke-width="2.03"/>
<path d="M522.6 385.5 L525 391.3 L532 389" stroke-width="1.89"/>
<path d="M524.5 381.5 L522.6 385.5" stroke-width="1.45"/>
<path d="M532 394.9 L576.7 381.9 L580.2 389 L535.5 404.3Z" stroke-width="1.89"/>
<path d="M535.5 404.3 L534.4 410.1 L580.2 391.3 L580.2 389" stroke-width="1.89"/>
<path d="M525 391.3 L532 394.9" stroke-width="1.45"/>
<path d="M532 389 L570.8 378.4" stroke-width="1.45"/>
<ellipse cx="540.2" cy="396.5" rx="1.3" ry="1.8" transform="rotate(15 540.2 396.5)" stroke-width="1.3"/>
<ellipse cx="550.3" cy="391.3" rx="1.3" ry="1.8" transform="rotate(15 550.3 391.3)" stroke-width="1.3"/>
<ellipse cx="568" cy="383.8" rx="1.3" ry="1.8" transform="rotate(15 568 383.8)" stroke-width="1.3"/>
<path d="M671.7 301.8 L718.5 275.9 L723.5 273.9 L724.5 301.8 L685.7 319.7 L683.7 323.7 L678.7 325.7 L674.7 319.7Z" stroke-width="2.03"/>
<path d="M673.7 305.4 L718.5 279.9" stroke-width="1.45"/>
<path d="M718.5 275.9 L719.1 279.9 L720.5 299.8 L686.7 316.7 L683.7 300.8" stroke-width="1.59"/>
<path d="M686.7 316.7 L685.7 319.7" stroke-width="1.3"/>
<path d="M683.7 300.8 L673.7 305.4" stroke-width="1.3"/>
<path d="M675.7 308.8 L679.7 306.8 L683.7 321.7" stroke-width="1.3"/>
<path d="M676.7 312.7 L680.7 323.7" stroke-width="1.3"/>
<circle cx="679.1" cy="323.3" r="1.1" stroke-width="1.16"/>
<path d="M720.5 275.9 L721.9 289.9" stroke-width="1.16"/>
<path d="M695.6 298.8 C696.6 297.7 707.2 293.7 708.6 293.4 C709.9 293.2 711.6 294.6 711.9 295.4 C712.3 296.2 713.6 301.7 712.5 302.8 C711.5 303.9 700.9 308.4 699.6 308.8 C698.3 309.1 696.9 307.6 696.6 306.8 C696.3 305.9 694.6 299.9 695.6 298.8Z" stroke-width="1.89"/>
<path d="M698.6 300.4 C699.3 299.7 706.7 297 707.6 296.8 C708.5 296.6 709.4 297.3 709.6 297.8 C709.8 298.3 710.6 301.7 710 302.4 C709.3 303.1 702.1 306 701.2 306.2 C700.3 306.4 699.4 305.5 699.2 305 C699 304.5 697.9 301.1 698.6 300.4Z" stroke-width="1.59"/>
<path d="M701.2 301.4 L706.6 299.4 L707 302.8 L701.8 304.8Z" stroke-width="1.16"/>
<circle cx="688.7" cy="302.8" r="1.4" stroke-width="1.3"/>
<circle cx="716.9" cy="296.8" r="1.4" stroke-width="1.3"/>
<circle cx="697.6" cy="289.9" r="1.1" stroke-width="1.16"/>
<path d="M630 324.7 C631.2 322.6 654.8 314.3 656.8 313.7 C658.9 313.1 660.3 314.2 660.8 315.7 C661.3 317.2 666 334.5 664.8 336.6 C663.5 338.7 643.7 347 641.9 347.6 C640.1 348.2 638.7 347.1 637.9 345.6 C637.1 344 628.7 326.8 630 324.7Z" stroke-width="2.03"/>
<path d="M638.3 324.1 C639.3 322.5 654.1 318 655.4 317.7 C656.7 317.4 657.5 317.9 657.8 319.1 C658.1 320.3 661.4 333.7 660.4 335.2 C659.4 336.8 644.8 342.2 643.5 342.6 C642.2 343 641.2 342.4 640.9 341.2 C640.6 340 637.3 325.6 638.3 324.1Z" stroke-width="1.74"/>
<path d="M630 324.7 L633.9 325.7 L639.9 346" stroke-width="1.45"/>
<path d="M641.9 327.7 L646.9 324.7 L649.9 330.6 L646.9 337.6 L642.9 334.6Z" stroke-width="1.45"/>
<path d="M649.9 323.7 L657.8 320.7 L659.8 334.6 L652.8 337.6" stroke-width="1.3"/>
<path d="M651.8 327.7 L657.8 325.7" stroke-width="1.16"/>
<path d="M652.8 332.6 L658.8 330" stroke-width="1.16"/>
<path d="M653.8 323.7 L655.8 336.6" stroke-width="1.16"/>
<path d="M643.9 339.6 L659.8 333.2" stroke-width="1.3"/>
<path d="M647.8 134.9 L652.7 131.9 L663.7 135.9 L664.7 139.9" stroke-width="1.89"/>
<path d="M647.8 134.9 L649.8 139.9 L657.7 141.9 L661.7 149.9 L727.4 180.7 L726.4 189.7 L731.3 188.7 L732.3 183.7 L737.3 187.7 L743.3 196.6" stroke-width="1.89"/>
<path d="M664.7 139.9 L733.3 177.7 L737.3 179.7 L743.3 196.6" stroke-width="1.89"/>
<path d="M652.7 131.9 L653.7 136.9 L658.7 138.9" stroke-width="1.3"/>
<path d="M649.8 139.9 L650.7 136.9 L653.7 136.9" stroke-width="1.16"/>
<path d="M658.7 138.9 L664.7 139.9" stroke-width="1.16"/>
<path d="M660.7 141.9 L665.7 144.9 L729.4 178.1" stroke-width="1.3"/>
<path d="M665.7 147.9 L721.4 177.7" stroke-width="1.3"/>
<path d="M669.7 146.9 L679.6 151.8 L678.6 153.8" stroke-width="1.16"/>
<path d="M727.4 180.7 L732.3 183.7" stroke-width="1.3"/>
<path d="M733.3 177.7 L732.3 183.7" stroke-width="1.3"/>
<path d="M729 184.7 L729.4 188.7" stroke-width="1.16"/>
<path d="M753.4 206.9 C754 206.5 757.9 202.9 759.4 202.9 C760.9 202.9 767.2 206 768.4 206.9 C769.6 207.8 771 211.4 771.3 211.9" stroke-width="1.89"/>
<path d="M753.4 206.9 C752.9 209.2 749.4 224.9 748.5 229.8 C747.6 234.7 744.9 253.1 744.5 255.7" stroke-width="1.89"/>
<path d="M744.5 255.7 L751.4 259.7 L752.4 266.6 L761.4 266.6 L761.4 261.6 L765.4 258.7 L765.4 252.7 L759.4 249.7" stroke-width="1.89"/>
<path d="M771.3 211.9 C770.5 213.3 764.6 222 763.4 225.8 C762.2 229.6 759.8 247.3 759.4 249.7" stroke-width="1.89"/>
<path d="M756.4 208.9 C757.2 209.4 759.6 211.7 761.4 211.9 C763.2 212.1 766.4 210.2 767.4 209.9" stroke-width="1.3"/>
<path d="M759.4 204.9 C759.6 205.6 759.6 208.1 760.4 208.9 C761.2 209.7 763.1 210.1 764.4 209.9 C765.7 209.7 767.7 207.9 768.4 207.5" stroke-width="1.3"/>
<path d="M756.4 208.9 C756 211 753.1 225 752.4 229.8 C751.7 234.6 749.8 254 749.5 256.7" stroke-width="1.3"/>
<path d="M767.4 214.9 C766.6 216.4 760.5 226.3 759.4 229.8 C758.3 233.3 756.6 247.1 756.4 249.7 C756.2 252.3 757.3 255.1 757.4 255.7" stroke-width="1.3"/>
<path d="M737.5 240.7 L744.5 237.8 L743.5 243.7Z" stroke-width="1.59"/>
<ellipse cx="751.8" cy="239.8" rx="2" ry="4.8" transform="rotate(8 751.8 239.8)" stroke-width="1.74"/>
<ellipse cx="751.8" cy="239.8" rx="1" ry="3" transform="rotate(8 751.8 239.8)" stroke-width="1.3"/>
<path d="M751.4 259.7 L759.4 255.7 L765.4 258.7" stroke-width="1.3"/>
<path d="M759.4 255.7 L759.4 249.7" stroke-width="1.3"/>
<path d="M756.4 266.6 L757 260.6" stroke-width="1.16"/>
<path d="M748.5 229.8 L763.4 225.8" stroke-width="1.16"/>
<!-- box19 -->
<path d="M854.9 24.5 L874.8 23.6 L877.5 28.1 L883.9 27.2 L892.9 30.8 L897.4 28.1 L902.8 27.2 L906.8 33.6 L1022.7 87.5" stroke-width="2.03"/>
<path d="M854.9 24.5 L854 52.5 L887.5 57.9 L911.5 67.7 L924 90.5 L945 100.5 L963.1 108.5 L999 126 L1013.7 118.7 L1024.5 122.3 L1039.9 135 L1043.5 135.8 L1044.4 101.5 L1033.6 88.9" stroke-width="2.03"/>
<path d="M889 55.2 L913.5 65 L926 87 L947 97.5 L998.5 122.5 L1012.5 115.5" stroke-width="1.45"/>
<path d="M901 35.5 L1020.9 90.8" stroke-width="1.45"/>
<path d="M899.5 39 L1017.3 94.8" stroke-width="1.45"/>
<path d="M855.8 27.2 L872.1 35.3 L887.5 44.3 L888.4 55.2" stroke-width="1.45"/>
<path d="M854.9 24.5 L857.7 26.3 L874.8 26.3 L877.5 28.1" stroke-width="1.3"/>
<path d="M872.1 35.3 L877.5 29.9" stroke-width="1.3"/>
<path d="M877.5 33.5 L885.7 31.7 L892 37.1 L887.5 44.3" stroke-width="1.45"/>
<circle cx="885.8" cy="37.1" r="1.6" stroke-width="1.3"/>
<ellipse cx="881.1" cy="48.9" rx="1.4" ry="2.3" stroke-width="1.45"/>
<path d="M858.6 41.1 L866.3 39.8 L866.7 41.6 L858.9 42.9Z" stroke-width="1.45"/>
<path d="M858.6 48.3 L866.3 47.1 L866.7 48.9 L858.9 50.1Z" stroke-width="1.45"/>
<path d="M872.1 56.1 L872.1 60.6 L883 64.2 L883 59.7" stroke-width="1.59"/>
<path d="M892.9 30.8 L888.4 44.3" stroke-width="1.3"/>
<path d="M899.2 37.1 L888.4 44.3" stroke-width="1.3"/>
<path d="M891.1 46.5 L891.4 56.5 L892.3 57.8 L896 59.8 L896.8 58.6 L897 49.2" stroke-width="1.59"/>
<path d="M891.1 46.5 L897.6 42.3 L903.5 45 L897 49.2" stroke-width="1.45"/>
<path d="M903.9 51.2 L904.2 61.5 L905.1 62.8 L908.6 64.7 L909.4 63.5 L909.6 53.8" stroke-width="1.59"/>
<path d="M903.9 51.2 L910.4 47 L916.1 49.6 L909.6 53.8" stroke-width="1.45"/>
<path d="M917.1 56.9 L917.4 67.5 L918.3 68.8 L921.8 70.7 L922.6 69.5 L922.8 59.5" stroke-width="1.59"/>
<path d="M917.1 56.9 L923.6 52.7 L929.3 55.3 L922.8 59.5" stroke-width="1.45"/>
<path d="M929.3 62.6 L929.6 86 L930.5 87.3 L934.5 89.5 L935.3 88.3 L935.5 65.5" stroke-width="1.59"/>
<path d="M929.3 62.6 L935.8 58.4 L942 61.3 L935.5 65.5" stroke-width="1.45"/>
<path d="M971.6 82.1 L971.9 104.5 L972.8 105.8 L977 108 L977.8 106.8 L978 85" stroke-width="1.59"/>
<path d="M971.6 82.1 L978.1 77.9 L984.5 80.8 L978 85" stroke-width="1.45"/>
<path d="M982.5 87 L982.8 109 L983.7 110.3 L987.6 112.4 L988.4 111.2 L988.6 89.8" stroke-width="1.59"/>
<path d="M982.5 87 L989 82.8 L995.1 85.6 L988.6 89.8" stroke-width="1.45"/>
<path d="M993.6 92.2 L993.9 115 L994.8 116.3 L998.4 118.3 L999.2 117.1 L999.4 94.9" stroke-width="1.59"/>
<path d="M993.6 92.2 L1000.1 88 L1005.9 90.7 L999.4 94.9" stroke-width="1.45"/>
<path d="M1004.5 97.6 L1004.8 116.5 L1005.7 117.8 L1008.8 119.5 L1009.6 118.3 L1009.8 100" stroke-width="1.59"/>
<path d="M1004.5 97.6 L1011 93.4 L1016.3 95.8 L1009.8 100" stroke-width="1.45"/>
<path d="M940.5 68 L943.5 97" stroke-width="1.45"/>
<path d="M945.5 69.5 L947 98.5" stroke-width="1.45"/>
<path d="M990.5 112.5 L991.5 103.5 L995 104.5 L995.5 115" stroke-width="1.3"/>
<path d="M949.7 67.4 L952 65.5 L969.5 72.6 L968.4 75 L949.7 67.4" stroke-width="1.74"/>
<path d="M950.5 69.1 L947.2 98.4" stroke-width="1.59"/>
<path d="M955.4 70.7 L954.5 100" stroke-width="1.45"/>
<path d="M960.2 72.3 L957 101.6" stroke-width="1.45"/>
<path d="M964.3 73.1 L962.7 104.9" stroke-width="1.59"/>
<path d="M952 82 L958 79.5" stroke-width="1.3"/>
<path d="M951 90 L956.5 87.5" stroke-width="1.3"/>
<path d="M965.5 76 L970 78 L968.5 107" stroke-width="1.45"/>
<path d="M1017.3 95.2 C1018.3 94.8 1022.8 93.8 1024.5 92.5 C1026.2 91.1 1028.5 86.4 1029.9 85.2 C1031.4 84 1034.9 83 1035.4 83.4 C1035.8 83.9 1033.8 88.1 1033.6 88.9" stroke-width="1.89"/>
<path d="M1013.7 98.8 C1015.4 98.3 1023.7 96.5 1026.3 95.2 C1029 93.9 1032.6 89.7 1033.6 88.9" stroke-width="1.59"/>
<path d="M1013.7 98.8 L1014.6 117.8" stroke-width="1.59"/>
<path d="M1015.5 102.4 L1029.9 100.6 L1044.4 109.6" stroke-width="1.45"/>
<path d="M1029.9 100.6 L1035.4 92.5" stroke-width="1.3"/>
<path d="M1020 122.3 L1020 126.8 L1029 131.3 L1029.9 126.8" stroke-width="1.59"/>
<ellipse cx="1018.2" cy="110.9" rx="1.4" ry="2.3" stroke-width="1.45"/>
<path d="M1034.8 112.4 L1040.4 117.2 L1041.2 119.6 L1035.4 114.7Z" stroke-width="1.45"/>
<path d="M1034.8 121.4 L1040.4 126.3 L1041.2 128.6 L1035.4 123.7Z" stroke-width="1.45"/>
<path d="M999.2 122.3 L1013.3 115.4" stroke-width="1.45"/>
<path d="M774.2 33.4 C775.1 34.6 781.6 41.7 783.4 45 C785.2 48.3 790.7 62.6 792.6 66.5 C794.5 70.4 801.6 82.4 802.6 84.1" stroke-width="2.17"/>
<path d="M802.6 84.1 L792.6 88.7 L791.9 100.3 L786.5 98.7 L781.1 93.4 L775 90.3 L767.3 86.4 L766.5 60.3 L756.5 46.5 L755.4 41.1 L774.2 33.4" stroke-width="2.17"/>
<path d="M757.3 43.7 L775.3 37" stroke-width="1.45"/>
<path d="M775.3 37 C776.3 38.9 783.8 51.9 785.2 55.7 C786.7 59.6 789.3 72.4 789.9 75.7 C790.4 79 791 87.4 791.1 88.7" stroke-width="1.45"/>
<path d="M759.1 45.7 L768.3 59.6 L769.1 85.7" stroke-width="1.45"/>
<path d="M767.3 80.3 L781.9 85.7 L791.1 89.5" stroke-width="1.3"/>
<path d="M786.5 98.7 L787.2 88.7" stroke-width="1.3"/>
<path d="M781.9 89.5 L782.3 94.1" stroke-width="1.16"/>
<path d="M771.4 56 C771.7 56.8 774.2 62.6 774.5 64.2 C774.8 65.8 774.2 71.1 774.2 71.9" stroke-width="1.59"/>
<path d="M773.6 55.4 C773.9 56.3 776.4 62.5 776.6 64.2 C776.9 65.8 776.4 71.1 776.3 71.9" stroke-width="1.59"/>
<path d="M774.2 71.9 C774.3 72.1 774.7 73.4 775.1 73.4 C775.5 73.4 776.1 72.1 776.3 71.9" stroke-width="1.45"/>
<path d="M771.4 56 C771.6 55.8 772 54.6 772.3 54.5 C772.7 54.4 773.4 55.3 773.6 55.4" stroke-width="1.45"/>
<path d="M766.2 51.4 L769.6 50.2 L770.5 53.9 L767.1 55.1Z" stroke-width="1.59"/>
<path d="M775.4 49.3 L778.8 48 L779.7 51.7 L776.3 53Z" stroke-width="1.59"/>
<ellipse cx="786.8" cy="65.9" rx="2.6" ry="1.4" transform="rotate(-20 786.8 65.9)" stroke-width="1.74"/>
<ellipse cx="784.2" cy="78.3" rx="1.2" ry="2.6" transform="rotate(5 784.2 78.3)" stroke-width="1.74"/>
<circle cx="764.2" cy="45.1" r="1.1" stroke-width="1.45"/>
<path d="M761.9 42.7 L763.1 48" stroke-width="1.3"/>
<path d="M755.7 116.5 L756.3 106.4 L769 100.7 L871.5 143.7 L870.9 147.5 L860.1 152 L858.2 158.3" stroke-width="2.17"/>
<path d="M767.7 102.8 L870 145.6" stroke-width="1.45"/>
<path d="M756.3 106.6 L859.9 151.7" stroke-width="1.45"/>
<path d="M755.7 116.5 L760.8 118.6 L761 114.5 L763.3 115.7 L763.5 119.7 L768.6 121.8 L768.9 117.7 L771.1 118.9 L771.4 122.9 L776.5 125 L776.7 120.9 L779 122.1 L779.2 126.1 L784.3 128.2 L784.6 124.1 L786.8 125.2 L787.1 129.3 L792.2 131.4 L792.4 127.3 L794.7 128.4 L794.9 132.5 L800 134.6 L800.3 130.5 L802.5 131.6 L802.8 135.7 L807.8 137.7 L808.1 133.7 L810.4 134.8 L810.6 138.9 L815.7 140.9 L815.9 136.9 L818.2 138 L818.5 142.1 L823.5 144.1 L823.8 140.1 L826.1 141.2 L826.3 145.3 L831.4 147.3 L831.6 143.3 L833.9 144.4 L834.2 148.5 L839.2 150.5 L839.5 146.5 L841.8 147.6 L842 151.7 L847.1 153.7 L847.3 149.7 L849.6 150.8 L849.9 154.8 L854.9 156.9 L855.2 152.9 L857.5 154 L857.7 158 L858.2 158.3" stroke-width="1.89"/>
<path d="M761.4 107.7 L782.3 115.3 L783.2 114 L762.7 106.4Z" stroke-width="1.45"/>
<path d="M783.9 117.5 L795.3 122.2 L796.1 120.9 L784.8 116.3Z" stroke-width="1.45"/>
<path d="M825.9 134.9 L838.6 140.2 L839.4 138.9 L826.8 133.6Z" stroke-width="1.45"/>
<path d="M841.1 141.6 L857.3 147.9 L858 146.6 L842 140.3Z" stroke-width="1.45"/>
<path d="M804.4 127.7 L812 123.9 L820.9 128.2 L813.3 132.3Z" stroke-width="1.74"/>
<path d="M807.6 127.7 L812.3 125.4 L817.7 128.2 L813.3 130.4Z" stroke-width="1.3"/>
<path d="M782.3 115.3 L786.7 112.7" stroke-width="1.45"/>
<path d="M798.7 124.4 L807 120.3" stroke-width="1.45"/>
<path d="M820.9 134.5 L828.5 130.4" stroke-width="1.45"/>
<path d="M837.3 140.8 L843.7 137" stroke-width="1.45"/>
<path d="M797.1 152.4 L807.2 146.6 L830.4 155.3 L821.7 164 L818.8 178.4 L810.1 174.1 L797.1 166.9Z" stroke-width="1.89"/>
<path d="M797.1 152.4 L818.8 161.1 L821.7 164" stroke-width="1.45"/>
<path d="M818.8 161.1 L817.4 177" stroke-width="1.45"/>
<path d="M801.5 155.3 L802.9 168.3" stroke-width="1.3"/>
<path d="M805.8 159.6 L814.5 163.1 L813.9 172.7" stroke-width="1.3"/>
<path d="M807.2 162.5 L807.2 169.8" stroke-width="1.3"/>
<circle cx="810.1" cy="151.5" r="1.1" stroke-width="1.16"/>
<circle cx="817.4" cy="154.4" r="1.1" stroke-width="1.16"/>
<path d="M920.5 98 C920.4 98.7 918.5 103.5 919.1 105.3 C919.7 107.1 925.6 115 926.3 116.1" stroke-width="1.89"/>
<path d="M926.3 116.1 C925.7 116.9 920.9 121.4 919.8 124.1 C918.7 126.8 916 140 915.5 142.9 C914.9 145.8 914.8 152 914.7 153" stroke-width="1.89"/>
<path d="M920.5 98 C919.8 98.6 914.8 101.8 913.3 103.8 C911.8 105.8 906.6 115.3 905.3 118.3 C904 121.3 900.8 132 900.3 133.5" stroke-width="1.89"/>
<path d="M900.3 133.5 L894.5 134.9 L893 145.8 L898.1 147.2 L903.2 148.7 L908.9 150.1 L914.7 153" stroke-width="1.89"/>
<path d="M900.3 133.5 L901.7 135.7 L898.1 137.8 L898.8 142.9" stroke-width="1.45"/>
<path d="M915.5 103.8 C915.7 104.7 916.8 111.1 917.6 112.5 C918.4 113.9 922.8 117.1 923.4 117.6" stroke-width="1.45"/>
<path d="M911.1 127 L908.9 140.7" stroke-width="1.59"/>
<path d="M913 127.3 L910.7 141.2" stroke-width="1.3"/>
<circle cx="912.7" cy="122.9" r="1.7" stroke-width="1.45"/>
<circle cx="918.4" cy="119" r="1.4" stroke-width="1.45"/>
<ellipse cx="907.5" cy="117.7" rx="1" ry="1.7" stroke-width="2.32"/>
<path d="M905.3 121.2 C905.1 122.3 903.5 130.6 903.2 132.8 C902.8 134.9 901.9 141.9 901.7 142.9" stroke-width="1.3"/>
<path d="M932.1 111.8 L942.2 107.4 L955.3 113.9 L958.1 116.8 L956.7 127 L952.4 127.7 L943.7 124.1 L943.7 119.7 L932.1 113.9Z" stroke-width="1.89"/>
<path d="M932.1 111.8 L944.4 117.6 L955.3 113.9" stroke-width="1.45"/>
<path d="M944.4 117.6 L943.7 119.7" stroke-width="1.3"/>
<path d="M943.7 119.7 L958.1 116.8" stroke-width="0"/>
<path d="M948 119.7 L948 125.5" stroke-width="1.45"/>
<path d="M950.9 119 L950.9 126.7" stroke-width="1.45"/>
<path d="M953.8 118 L954.1 127.3" stroke-width="1.45"/>
<path d="M939.3 111 L945.8 109.6 L948 113.2" stroke-width="1.3"/>
<!-- sill -->
<path d="M796 519.8 L777.3 498.6 L778.1 466 L783.8 464.4 L796 469.3 L804.2 466 L803.4 455.5 L813.1 451.4 L813.6 464.4" stroke-width="2.17"/>
<path d="M804.2 466 L813.6 464.4" stroke-width="1.3"/>
<path d="M805 457.1 L811.5 454.3 L811.8 462.8 L805.5 464.4Z" stroke-width="1.45"/>
<path d="M806.6 462.8 L810.7 456.3" stroke-width="1.16"/>
<path d="M812.6 464.4 C812.8 466.2 813.1 474.5 813.9 477.4 C814.8 480.4 817.1 484.8 818.8 486.4 C820.6 488 825 489.3 827 489.6 C828.9 490 832.6 488.9 833.5 488.8" stroke-width="2.32"/>
<path d="M796 469.3 L796 493.7 L794.4 511.6" stroke-width="1.59"/>
<path d="M780.1 467.3 L779.8 497 L794.4 511.6" stroke-width="1.45"/>
<path d="M782.2 488.8 L795.2 493.7" stroke-width="1.3"/>
<path d="M794.4 500.2 L799.3 499.9" stroke-width="1.3"/>
<path d="M794.4 511.6 L796.9 514.9" stroke-width="1.45"/>
<ellipse cx="785.5" cy="483.6" rx="1.1" ry="1.6" transform="rotate(15 785.5 483.6)" stroke-width="1.45"/>
<ellipse cx="801.2" cy="475" rx="1.1" ry="1.6" transform="rotate(15 801.2 475)" stroke-width="1.45"/>
<ellipse cx="801.7" cy="479.6" rx="1.1" ry="1.6" transform="rotate(15 801.7 479.6)" stroke-width="1.45"/>
<ellipse cx="803.4" cy="485.6" rx="1.1" ry="1.6" transform="rotate(15 803.4 485.6)" stroke-width="1.45"/>
<ellipse cx="811.5" cy="491.8" rx="1.1" ry="1.6" transform="rotate(15 811.5 491.8)" stroke-width="1.45"/>
<ellipse cx="824.5" cy="496.2" rx="1.1" ry="1.6" transform="rotate(15 824.5 496.2)" stroke-width="1.45"/>
<ellipse cx="831.5" cy="493.4" rx="1.1" ry="1.6" transform="rotate(15 831.5 493.4)" stroke-width="1.45"/>
<ellipse cx="813.6" cy="500.7" rx="1.1" ry="1.6" transform="rotate(15 813.6 500.7)" stroke-width="1.45"/>
<ellipse cx="800.6" cy="505.9" rx="1.1" ry="1.6" transform="rotate(15 800.6 505.9)" stroke-width="1.45"/>
<ellipse cx="862" cy="479.6" rx="1.1" ry="1.6" transform="rotate(15 862 479.6)" stroke-width="1.45"/>
<ellipse cx="891.3" cy="466.5" rx="1.1" ry="1.6" transform="rotate(15 891.3 466.5)" stroke-width="1.45"/>
<ellipse cx="920.6" cy="453.8" rx="1.1" ry="1.6" transform="rotate(15 920.6 453.8)" stroke-width="1.45"/>
<path d="M817.2 479.5 L900 443.5" stroke-width="2.32"/>
<path d="M900 443.5 C902 442.6 912 438.6 915 437 C918 435.4 920.7 433.9 922.8 431.5 C924.9 429.1 929.1 424.5 930.4 418.9 C931.7 413.3 932.6 393.6 932.9 389.7" stroke-width="2.17"/>
<path d="M819 483 L903 447" stroke-width="1.45"/>
<path d="M903 447 C905 446.1 914.9 441.9 918 440 C921.1 438.1 923.9 435.7 926 433 C928.1 430.3 932.2 425.6 933.5 420 C934.8 414.4 935.7 394.9 936 391" stroke-width="1.45"/>
<path d="M796 493.7 L815 486.5" stroke-width="1.45"/>
<path d="M828.6 488.8 L962 427" stroke-width="1.45"/>
<path d="M830 492 L964 430.2" stroke-width="1.45"/>
<path d="M795.2 501.8 L827 489.6" stroke-width="1.45"/>
<path d="M797.7 512.5 L1047.3 403" stroke-width="1.45"/>
<path d="M797.5 516 L1047.5 405.5" stroke-width="1.45"/>
<path d="M796 519.8 L1048.1 408" stroke-width="2.75"/>
<path d="M1038 321.4 L1040.5 325.2 L1068.4 337.8 L1067.1 344.2" stroke-width="2.03"/>
<path d="M1038 321.4 L1041.8 326.5" stroke-width="1.3"/>
<path d="M1038 321.4 C1036.9 324 1023.7 355.6 1021.5 360.6 C1019.3 365.7 1006.2 394.9 1005.1 397.3" stroke-width="2.03"/>
<path d="M1005.1 397.3 L975.9 411.3" stroke-width="2.03"/>
<path d="M1041.8 326.5 C1040.7 328.9 1027.5 358.3 1025.3 363.2 C1023.1 368 1010 396.7 1008.9 399.1" stroke-width="1.45"/>
<path d="M1008.9 399.1 L978.5 413.8" stroke-width="1.45"/>
<path d="M1031.6 345.4 C1031.4 348 1028.7 356.4 1030.4 360.6 C1032.1 364.9 1042.4 364.4 1041.8 370.8 C1041.1 377.1 1029.1 394 1026.6 398.6" stroke-width="1.45"/>
<path d="M1068.4 337.8 C1067 340.5 1059.2 355.6 1057 360.6 C1054.7 365.7 1050.4 376.9 1049.4 380.9 C1048.3 384.9 1048.2 393.2 1048.1 394.8" stroke-width="2.17"/>
<path d="M1064.6 336.1 C1063.2 338.9 1055.4 355.4 1053.2 360.6 C1050.9 365.9 1046.6 376.8 1045.6 380.9 C1044.5 385 1044.5 394.3 1044.3 396.1" stroke-width="1.45"/>
<path d="M1060.8 334.3 C1059.4 337.4 1051.6 355.2 1049.4 360.6 C1047.2 366.1 1042.8 377 1041.8 380.9 C1040.8 384.7 1040.9 392.1 1040.8 393.5" stroke-width="1.45"/>
<circle cx="1040.5" cy="349.2" r="1.3" stroke-width="1.3"/>
<path d="M1048.1 394.8 L1046.8 402.4 L1048.1 407.5" stroke-width="2.03"/>
<path d="M1044.3 396.1 L987.3 421.4" stroke-width="1.89"/>
<path d="M1046.8 402.4 L988.6 427" stroke-width="1.45"/>
<circle cx="1040.5" cy="400.6" r="1.3" stroke-width="1.45"/>
<circle cx="1021.5" cy="408.2" r="1.3" stroke-width="1.45"/>
<circle cx="1010.9" cy="412.5" r="1.3" stroke-width="1.45"/>
<circle cx="1001.3" cy="416.3" r="1.3" stroke-width="1.45"/>
<path d="M987.3 420.6 L991.1 419.4 L991.6 425.9 L988.1 427.2Z" stroke-width="1.45"/>
<path d="M932.9 389.7 L946.8 384.7 L959.5 385.9 L960.8 378.4 L962.8 376.3 L965.3 377.8 L967.1 383.4 L969.6 398.6 L975.9 413.8" stroke-width="2.03"/>
<path d="M936.7 391 L934.2 420.1 L926.6 434.1 L905.1 446.7" stroke-width="0"/>
<path d="M946.8 384.7 L945.6 397.3 L938 401.1" stroke-width="1.45"/>
<path d="M959.5 385.9 L941.8 436.6" stroke-width="1.74"/>
<path d="M957 394.8 L944.3 431.5" stroke-width="1.3"/>
<path d="M960.8 378.4 L961.5 385.9" stroke-width="1.3"/>
<path d="M965.3 377.8 L964.6 382.2" stroke-width="1.16"/>
<ellipse cx="963.5" cy="392.3" rx="1.3" ry="3.5" stroke-width="1.45"/>
<circle cx="939.2" cy="392.3" r="1.1" stroke-width="1.3"/>
<circle cx="960.8" cy="404.9" r="1.1" stroke-width="1.3"/>
<circle cx="964.8" cy="404.4" r="1.1" stroke-width="1.3"/>
<circle cx="963.3" cy="410" r="1.1" stroke-width="1.3"/>
<path d="M938 407.5 L946.8 398.6 L950.1 401.1 L949.4 410 L940.5 417.6 L937.5 413.8Z" stroke-width="1.74"/>
<path d="M938 407.5 L941.8 410 L940.5 417.6" stroke-width="1.3"/>
<path d="M941.8 410 L950.1 401.6" stroke-width="1.3"/>
<path d="M958.2 418.9 L967.1 416.3 L969.6 427.7 L973.4 429" stroke-width="1.59"/>
<path d="M958.2 418.9 L957 431.5 L951.9 435.3" stroke-width="1.59"/>
<circle cx="961.5" cy="425.9" r="1.1" stroke-width="1.3"/>
<circle cx="966.3" cy="424.4" r="1.1" stroke-width="1.3"/>
<path d="M949.4 436.6 L956.2 434.1 L957.2 440.4 L950.1 442.9Z" stroke-width="1.59"/>
<circle cx="953.2" cy="438.6" r="1.1" stroke-width="1.3"/>
<path d="M970.9 428.5 L976.7 426.5 L977.5 432.8 L971.6 434.8Z" stroke-width="1.59"/>
<circle cx="974.2" cy="430.8" r="1.1" stroke-width="1.3"/>
<path d="M930.4 445.4 L933.4 444.4 L933.9 448.7 L930.9 449.7Z" stroke-width="1.3"/>
<path d="M945.6 426.5 L951.9 418.9 L953.7 425.2" stroke-width="1.3"/>
<circle cx="1008.8" cy="449" r="4.6" stroke-width="1.89"/>
<path d="M1001.2 446.2 L1004.5 444.6 L1005.3 449.6 L1002.2 450.6Z" stroke-width="1.59"/>
<circle cx="1002.3" cy="447.2" r="1.4" stroke-width="1.3"/>
<path d="M1005.5 445.5 C1005.3 446.1 1004.2 447.9 1004.3 449 C1004.3 450.1 1005.5 451.5 1005.8 452" stroke-width="1.45"/>
<!-- small -->
<path d="M753.5 356.2 C755.2 354 776.2 343.8 778.1 343.2 C780.1 342.5 782.1 344.6 782.5 346 C782.9 347.5 785.7 362.6 783.9 364.9 C782.2 367.1 758.5 379.3 756.4 380.1 C754.4 380.8 753 378 752.8 376.4 C752.6 374.8 751.9 358.4 753.5 356.2Z" stroke-width="2.17"/>
<path d="M757.9 362 C758.9 360.8 777.8 351.6 778.9 351.1 C780 350.6 779.8 351.4 779.9 352.1 C779.9 352.8 780.6 363.7 779.6 364.9 C778.6 366 760.7 375.2 759.6 375.7 C758.6 376.2 758.6 375.4 758.5 374.7 C758.4 374 756.9 363.1 757.9 362Z" stroke-width="1.89"/>
<path d="M760.1 363.4 L770.9 358.8 L776.7 366.3 L760.8 373.5" stroke-width="1.45"/>
<path d="M770.9 358.8 L778.9 353.3" stroke-width="1.3"/>
<path d="M737.6 352.6 L742 348.9 L762.2 341.7 L769.5 345.3 L778.1 343.2" stroke-width="1.89"/>
<path d="M737.6 352.6 L736.2 357.6 L739.1 363.4 L740.5 369.2 L746.3 377.9 L752.8 379.3" stroke-width="1.89"/>
<path d="M737.6 352.6 L744.9 356.2 L753.5 356.2" stroke-width="1.45"/>
<path d="M744.9 356.2 L745.6 363.4 L752.8 367.8" stroke-width="1.45"/>
<path d="M739.1 363.4 L745.6 363.4" stroke-width="1.3"/>
<path d="M740.5 369.2 L747.8 369.9 L752.8 372.1" stroke-width="1.3"/>
<path d="M742 349.7 L747.8 354 L765.1 346" stroke-width="1.45"/>
<path d="M749.2 349.7 L757.2 346.3 L760.8 348.2 L752.8 351.8Z" stroke-width="1.3"/>
<path d="M757.9 343.9 L763.7 346.8" stroke-width="1.3"/>
<path d="M760.1 343.2 L765.8 346" stroke-width="1.3"/>
<path d="M746.3 365.6 L749.9 366.3 L749.9 369.9 L746.3 369.2Z" stroke-width="1.45"/>
<path d="M743.4 372.1 L749.2 373.5 L749.9 377.9" stroke-width="1.3"/>
<circle cx="726.8" cy="359.1" r="4.3" stroke-width="2.32"/>
<path d="M724.6 355.9 C724.4 356.4 723.1 358 723.2 359.1 C723.2 360.2 724.6 362 724.9 362.5" stroke-width="1.59"/>
<path d="M723.2 356.9 C722.9 357.4 721.7 358.8 721.7 359.8 C721.7 360.8 722.9 362.2 723.2 362.7" stroke-width="1.45"/>
<path d="M711.6 354 L719.5 355.5" stroke-width="1.45"/>
<path d="M713 357.9 L719.5 359.8" stroke-width="1.45"/>
<ellipse cx="712.7" cy="355.9" rx="1.2" ry="1.9" transform="rotate(-15 712.7 355.9)" stroke-width="1.45"/>
<ellipse cx="715.2" cy="356.5" rx="1" ry="1.7" transform="rotate(-15 715.2 356.5)" stroke-width="1.3"/>
<ellipse cx="717.4" cy="357" rx="1" ry="1.7" transform="rotate(-15 717.4 357)" stroke-width="1.3"/>
<ellipse cx="720.3" cy="357.9" rx="1.3" ry="3.2" transform="rotate(-15 720.3 357.9)" stroke-width="1.74"/>
<path d="M842.8 336.2 C844 333.9 856.9 328.8 858.7 328.2 C860.5 327.6 863.7 327.3 864.5 328.9 C865.2 330.6 869.4 345.3 868.1 347.8 C866.8 350.2 850.6 357.2 848.5 357.9 C846.5 358.6 844 357.5 843.5 355.7 C843 353.9 841.5 338.5 842.8 336.2Z" stroke-width="2.17"/>
<path d="M844.9 337.9 C846.3 337.2 857.2 331.1 859 330.4 C860.8 329.7 862.6 330.7 863 330.7" stroke-width="1.45"/>
<path d="M844.9 337.9 C845 338.9 845.5 345.9 845.7 347.8 C845.8 349.6 845.9 355.8 845.9 356.7" stroke-width="1.45"/>
<path d="M836.2 342 L842.8 340.2 L843.5 345.6 L837 347Z" stroke-width="1.74"/>
<path d="M837 349.9 L843.5 348.5 L843.9 353.5 L837.7 354.7Z" stroke-width="1.74"/>
<path d="M838.4 343.4 L842 342.7" stroke-width="1.3"/>
<path d="M839.1 351.4 L842.5 350.7" stroke-width="1.3"/>
<path d="M836.2 342 L835.8 349.2 L837 349.9" stroke-width="1.45"/>
<path d="M822.5 323.9 C822.7 322.9 823.1 320.8 823.9 320.3 C824.8 319.7 828 319.2 829 319.5 C830 319.9 831 322 831.2 323.2 C831.4 324.3 831.2 327.4 830.5 328.2 C829.7 329.1 826.5 329.8 825.4 329.7 C824.3 329.6 822.6 328.3 822.2 327.5 C821.8 326.7 822.3 324.8 822.5 323.9Z" stroke-width="1.89"/>
<path d="M831.2 324.6 C831.7 324.6 834.1 324.3 834.8 324.6 C835.5 324.9 836.7 326.2 836.7 326.8 C836.7 327.4 835.5 328.8 834.8 328.9 C834.1 329.1 831.7 328.3 831.2 328.2" stroke-width="1.74"/>
<path d="M823.9 323.2 L829.7 321.7" stroke-width="1.3"/>
<path d="M824.7 326.8 L829.7 325.8" stroke-width="1.3"/>
<path d="M826.1 321 L826.5 328.9" stroke-width="1.3"/>
<path d="M816 352.1 L820.3 348.5 L825.4 347.8 L829 350.7 L828.3 355.7 L829.7 359.3 L826.1 363 L820.3 363.7 L815.3 360.8 L814.5 357.2Z" stroke-width="1.89"/>
<path d="M818.2 352.8 L826.1 351.4 L826.5 355.7 L818.9 357.2Z" stroke-width="1.45"/>
<path d="M818.9 357.2 L819.6 361.5 L826.1 360.1 L826.5 355.7" stroke-width="1.45"/>
<path d="M820.3 348.5 L821 352.1" stroke-width="1.3"/>
<path d="M825.4 347.8 L824.7 351.8" stroke-width="1.3"/>
<path d="M821.8 357.9 L822.2 360.8" stroke-width="1.3"/>
<circle cx="811.2" cy="356.4" r="1.2" stroke-width="1.89"/>
<path d="M812.4 356.7 L815.3 357.9" stroke-width="1.45"/>
<path d="M869.4 332.9 L880.3 327.6" stroke-width="1.59"/>
<path d="M871.6 336.2 L882.4 331.2" stroke-width="1.59"/>
<path d="M869.4 332.9 C869.3 333.2 868.3 334.2 868.7 334.8 C869 335.4 871.1 336 871.6 336.2" stroke-width="1.45"/>
<path d="M871.6 331.9 L873.3 335.1" stroke-width="1.3"/>
<path d="M873.6 331 L875.3 334.1" stroke-width="1.3"/>
<path d="M875.6 330 L877.4 333.2" stroke-width="1.3"/>
<path d="M877.7 329.1 L879.4 332.3" stroke-width="1.3"/>
<path d="M879.7 328.1 L881.4 331.3" stroke-width="1.3"/>
<ellipse cx="881.7" cy="327.6" rx="1.7" ry="4.1" transform="rotate(-20 881.7 327.6)" stroke-width="1.74"/>
<path d="M881.7 323.2 L891.1 319.9 L894.7 322.5 L894.7 329 L885.3 333.8 L883.2 331.9" stroke-width="1.89"/>
<ellipse cx="891.8" cy="324.7" rx="2" ry="4.3" transform="rotate(-15 891.8 324.7)" stroke-width="1.45"/>
<path d="M885.3 322.5 L887.5 332.6" stroke-width="1.3"/>
<path d="M888.7 321 L890.7 331.2" stroke-width="1.3"/>
<path d="M901.2 323.2 C901.4 323 901.5 322.1 902 321.8 C902.5 321.4 903.8 321.2 904.1 321" stroke-width="1.59"/>
<path d="M901.2 323.2 L903.4 324.7 L906.3 323.2" stroke-width="1.45"/>
<ellipse cx="907" cy="321" rx="1.4" ry="2.9" transform="rotate(-25 907 321)" stroke-width="1.74"/>
<path d="M908.5 318.2 L915 314.5 L919.3 316.7 L919.6 321 L915 323.9 L909.9 323.2Z" stroke-width="1.89"/>
<path d="M915 314.5 L915.7 318.9 L915 323.9" stroke-width="1.3"/>
<path d="M910.7 316.7 L915.7 318.9 L919.6 318.2" stroke-width="1.3"/>
<path d="M919.3 316.7 L920.8 312.7 L924.4 312.4 L925.1 315.5 L919.6 321" stroke-width="1.74"/>
<path d="M924.4 312.4 C925.5 311.8 930.5 308.5 932.4 308 C934.2 307.5 936.8 308 938.1 308.7 C939.5 309.5 941.9 312 942.5 313.8 C943.1 315.6 943.3 320 942.5 322.5 C941.7 325 939 330.3 936.7 332.6 C934.4 334.9 935.3 335 925.1 339.9 C914.9 344.7 868.7 364.9 860 368.8" stroke-width="1.89"/>
<path d="M925.1 315.5 C926.1 315 930.8 311.7 932.4 311.2 C933.9 310.7 935.8 311.1 936.7 311.6 C937.6 312.2 939 313.9 939.3 315.3 C939.7 316.6 939.9 319.8 939.3 321.8 C938.7 323.7 936.6 327.7 934.5 329.7 C932.4 331.8 933.6 332.2 923.7 337 C913.7 341.7 868.5 361.4 860 365.2" stroke-width="1.89"/>
<path d="M860 365.2 L860 368.8" stroke-width="1.74"/>
<path d="M641.5 468.6 L722.3 428.3" stroke-width="1.89"/>
<path d="M643.5 473 L724.3 432.6" stroke-width="1.89"/>
<path d="M722.3 428.3 C722.8 428.4 724.7 428.3 725 429 C725.3 429.7 724.4 432 724.3 432.6" stroke-width="1.74"/>
<path d="M626.7 472.5 L630.4 470.3 L639.8 471.7 L641.2 475.4 L636.9 477.5 L628.9 476.8Z" stroke-width="1.89"/>
<path d="M630.4 470.3 L631.8 473.9 L628.9 476.8" stroke-width="1.3"/>
<path d="M631.8 473.9 L641.2 475.4" stroke-width="1.3"/>
<ellipse cx="639.8" cy="471" rx="1" ry="2.3" transform="rotate(-25 639.8 471)" stroke-width="1.59"/>
<ellipse cx="641.9" cy="469.9" rx="1" ry="2.3" transform="rotate(-25 641.9 469.9)" stroke-width="1.59"/>
<path d="M552.3 459.5 L555.2 458 L558.1 459.2 L558.8 462.3 L556.2 464.5 L552.7 463.1Z" stroke-width="1.89"/>
<ellipse cx="555.9" cy="461.2" rx="1.4" ry="2.5" transform="rotate(-20 555.9 461.2)" stroke-width="1.45"/>
<path d="M558.5 460.6 L566.7 465.2" stroke-width="1.45"/>
<path d="M557.6 463.8 L566 467.8" stroke-width="1.45"/>
<path d="M566.7 465.2 L567.5 467 L566 467.8" stroke-width="1.45"/>
<path d="M560 461.5 L558.8 464.4" stroke-width="1.3"/>
<path d="M561.8 462.5 L560.7 465.4" stroke-width="1.3"/>
<path d="M563.7 463.5 L562.6 466.4" stroke-width="1.3"/>
<path d="M565.6 464.5 L564.4 467.4" stroke-width="1.3"/>
<path d="M574 468.9 L590.6 461.6 L597.8 463.8 L605.8 466 L607.2 473.9 L604.3 476.1 L603.6 469.6 L599.3 468.1 L590.6 472.5 L590.6 478.3 L589.9 485.5 L584.8 487.7 L575.4 487.7 L568.2 483.3 L571.1 481.1Z" stroke-width="2.03"/>
<path d="M576.1 471 L590.6 464.5 L597.8 466.4" stroke-width="1.45"/>
<path d="M576.1 471 L574.7 481.1 L581.9 484.3 L583.4 475.4 L590.6 472.5" stroke-width="1.45"/>
<path d="M583.4 475.4 L587.7 471 L590.6 472.5" stroke-width="1.3"/>
<path d="M571.1 481.1 L574.7 481.1" stroke-width="1.3"/>
<path d="M581.9 484.3 L584.8 487.7" stroke-width="1.3"/>
<path d="M579 473.2 L578.3 479.7 L581.2 481.1" stroke-width="1.3"/>
<path d="M599.3 468.1 L599.6 473.9 L604.3 476.1" stroke-width="1.3"/>
<path d="M586.3 472.5 L587 484" stroke-width="1.3"/>
<path d="M575.9 471.3 L574.2 480 L581.3 482.7 L582.4 476.7 L584.5 474.6 L591 472.4" stroke-width="1.59"/>
<path d="M569.9 485.4 L579.1 488.7" stroke-width="1.45"/>
<path d="M590.5 486.5 L591.6 477.8 L599.3 474.6" stroke-width="1.45"/>
<path d="M545.8 493.4 L549.4 491 L554.5 492 L557.3 495.6 L555.9 500.7 L551.6 502.8 L547.2 500.7Z" stroke-width="2.03"/>
<ellipse cx="550.4" cy="496.8" rx="2.2" ry="4.3" transform="rotate(-20 550.4 496.8)" stroke-width="1.89"/>
<ellipse cx="552.7" cy="497.3" rx="2" ry="4.3" transform="rotate(-20 552.7 497.3)" stroke-width="1.59"/>
<ellipse cx="555" cy="498.2" rx="2.2" ry="4.8" transform="rotate(-20 555 498.2)" stroke-width="2.03"/>
<path d="M557.1 497 L564.3 500.7" stroke-width="1.45"/>
<path d="M556.2 500.7 L563.1 504" stroke-width="1.45"/>
<path d="M564.3 500.7 L565.3 502.8 L563.1 504" stroke-width="1.45"/>
<path d="M558.5 497.9 L557.3 501.1" stroke-width="1.3"/>
<path d="M560.5 498.9 L559.4 502.1" stroke-width="1.3"/>
<path d="M562.6 499.9 L561.4 503.1" stroke-width="1.3"/>
<path d="M565.3 502.8 L570.4 505 L599.3 492" stroke-width="1.3"/>
<path d="M601.4 488.4 L613.7 479.7 L632.5 487.7 L641.2 486.9 L641.9 494.9 L634 496.3 L623.9 494.2 L623.9 505.7 L617.3 507.2 L615.9 502.1 L604.3 499.9Z" stroke-width="2.03"/>
<path d="M601.4 488.4 L608 491.3 L609.4 497 L604.3 499.9" stroke-width="1.45"/>
<path d="M608 491.3 L618.1 484.8 L621 486.2 L620.2 492.7 L609.4 497" stroke-width="1.45"/>
<path d="M610.8 481.1 L621 486.2" stroke-width="1.3"/>
<path d="M621 486.2 L632.5 489.8 L632.5 487.7" stroke-width="1.45"/>
<path d="M632.5 489.8 L634 496.3" stroke-width="1.3"/>
<path d="M614.5 492.4 L620.2 490.1 L621 494.9 L616.3 496.5Z" stroke-width="1.45" fill="#000"/>
<path d="M603.6 492.7 L607.2 494.4" stroke-width="1.3"/>
<path d="M605.1 495.6 L608 496.8" stroke-width="1.3"/>
<circle cx="638" cy="491.6" r="1.3" stroke-width="1.45"/>
<circle cx="620.5" cy="502.8" r="1.3" stroke-width="1.45"/>
<path d="M617.3 500.7 L623.1 499.2" stroke-width="1.3"/>
<circle cx="615.9" cy="494.9" r="1.1" stroke-width="1.89"/>
<path d="M682.4 468.2 L690.4 465.3 L694 470.4 L697.6 469.7 L701.2 474 L704.9 473.3 L708.5 476.2 L710.7 484.9 L709.9 488.5 L703.4 489.9 L700.5 484.9 L683.9 480.5 L679.5 483.4Z" stroke-width="2.03"/>
<path d="M682.4 468.2 L685.3 471.1 L683.9 480.5" stroke-width="1.45"/>
<path d="M685.3 471.1 L690.4 468.9 L694 470.4" stroke-width="1.3"/>
<path d="M703.4 489.9 L702.7 479.1 L708.5 476.2" stroke-width="1.45"/>
<path d="M702.7 479.1 L699.1 476.9" stroke-width="1.3"/>
<ellipse cx="686.8" cy="474.7" rx="1.3" ry="2.3" transform="rotate(20 686.8 474.7)" stroke-width="1.45"/>
<ellipse cx="692.6" cy="478.4" rx="1.3" ry="2.3" transform="rotate(20 692.6 478.4)" stroke-width="1.45"/>
<ellipse cx="698.4" cy="482" rx="1.3" ry="2.3" transform="rotate(20 698.4 482)" stroke-width="1.45"/>
<path d="M690.4 468.9 L691.1 473.3" stroke-width="1.16"/>
<path d="M696.9 472.6 L697.3 476.2" stroke-width="1.16"/>
<path d="M686.8 483.4 C686.7 484.2 685.8 487.7 686 489.2 C686.3 490.7 687.8 494.1 688.9 495 C690.1 495.9 693.4 496.1 694.7 495.7 C696.1 495.3 698.4 493.4 699.1 492.1 C699.7 490.8 699.7 487.1 699.8 486.3" stroke-width="2.03"/>
<circle cx="692.6" cy="490.4" r="2.9" stroke-width="1.59"/>
<circle cx="692.6" cy="490.4" r="1.3" stroke-width="1.3"/>
</g>
</svg>
</body></html>
